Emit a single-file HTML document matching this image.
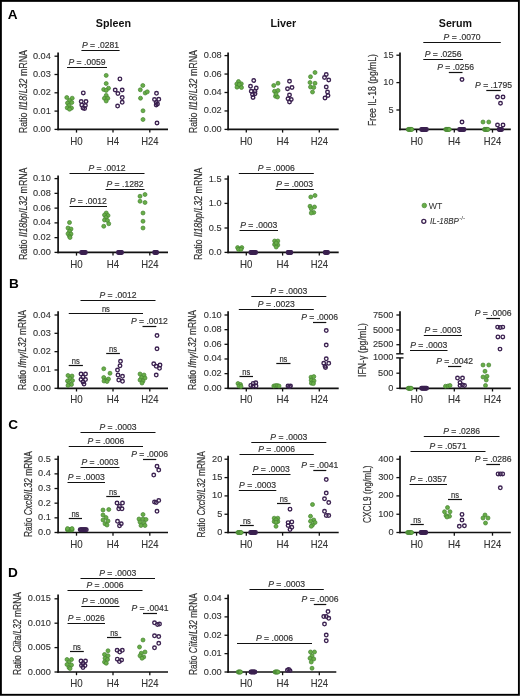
<!DOCTYPE html>
<html><head><meta charset="utf-8"><title>Figure</title>
<style>
html,body{margin:0;padding:0;background:#fff;}
body{width:520px;height:696px;overflow:hidden;font-family:"Liberation Sans",sans-serif;}
svg{display:block;will-change:transform;}
</style></head><body>
<svg width="520" height="696" viewBox="0 0 520 696" font-family="'Liberation Sans', sans-serif">
<rect x="0" y="0" width="520" height="696" fill="#fff"/>
<text x="7.7" y="18.8" font-size="13.6" text-anchor="start" font-weight="bold" fill="#000">A</text>
<text x="8.9" y="288.4" font-size="13.6" text-anchor="start" font-weight="bold" fill="#000">B</text>
<text x="8.2" y="429.2" font-size="13.6" text-anchor="start" font-weight="bold" fill="#000">C</text>
<text x="8" y="577.2" font-size="13.6" text-anchor="start" font-weight="bold" fill="#000">D</text>
<text x="113.4" y="26.6" font-size="10.5" text-anchor="middle" font-weight="bold" textLength="35.2" lengthAdjust="spacingAndGlyphs" fill="#111">Spleen</text>
<text x="283.4" y="26.8" font-size="10.5" text-anchor="middle" font-weight="bold" textLength="25.8" lengthAdjust="spacingAndGlyphs" fill="#111">Liver</text>
<text x="455.4" y="26.8" font-size="10.5" text-anchor="middle" font-weight="bold" textLength="33.2" lengthAdjust="spacingAndGlyphs" fill="#111">Serum</text>
<line x1="58.1" y1="52.4" x2="58.1" y2="130.2" stroke="#111" stroke-width="1.7"/>
<line x1="57.3" y1="129.4" x2="168" y2="129.4" stroke="#111" stroke-width="1.7"/>
<line x1="54.5" y1="129.4" x2="58.1" y2="129.4" stroke="#111" stroke-width="1.3"/>
<text x="50.8" y="131.9" font-size="9.2" text-anchor="end" fill="#333" stroke="#333" stroke-width="0.12">0.00</text>
<line x1="54.5" y1="111.1" x2="58.1" y2="111.1" stroke="#111" stroke-width="1.3"/>
<text x="50.8" y="113.6" font-size="9.2" text-anchor="end" fill="#333" stroke="#333" stroke-width="0.12">0.01</text>
<line x1="54.5" y1="92.8" x2="58.1" y2="92.8" stroke="#111" stroke-width="1.3"/>
<text x="50.8" y="95.3" font-size="9.2" text-anchor="end" fill="#333" stroke="#333" stroke-width="0.12">0.02</text>
<line x1="54.5" y1="74.5" x2="58.1" y2="74.5" stroke="#111" stroke-width="1.3"/>
<text x="50.8" y="77" font-size="9.2" text-anchor="end" fill="#333" stroke="#333" stroke-width="0.12">0.03</text>
<line x1="54.5" y1="56.2" x2="58.1" y2="56.2" stroke="#111" stroke-width="1.3"/>
<text x="50.8" y="58.7" font-size="9.2" text-anchor="end" fill="#333" stroke="#333" stroke-width="0.12">0.04</text>
<line x1="76.5" y1="129.4" x2="76.5" y2="132.6" stroke="#111" stroke-width="1.3"/>
<text x="76.5" y="144.5" font-size="10.8" text-anchor="middle" textLength="12.4" lengthAdjust="spacingAndGlyphs" fill="#333" stroke="#333" stroke-width="0.12">H0</text>
<line x1="113" y1="129.4" x2="113" y2="132.6" stroke="#111" stroke-width="1.3"/>
<text x="113" y="144.5" font-size="10.8" text-anchor="middle" textLength="12.4" lengthAdjust="spacingAndGlyphs" fill="#333" stroke="#333" stroke-width="0.12">H4</text>
<line x1="149.8" y1="129.4" x2="149.8" y2="132.6" stroke="#111" stroke-width="1.3"/>
<text x="149.8" y="144.5" font-size="10.8" text-anchor="middle" textLength="17.3" lengthAdjust="spacingAndGlyphs" fill="#333" stroke="#333" stroke-width="0.12">H24</text>
<text transform="translate(26.9,91.6) rotate(-90)" x="0" y="0" font-size="10.4" text-anchor="middle" textLength="83.2" lengthAdjust="spacingAndGlyphs" fill="#333" stroke="#333" stroke-width="0.2">Ratio <tspan font-style="italic">Il18</tspan>/<tspan font-style="italic">L32</tspan> mRNA</text>
<line x1="81.4" y1="50.5" x2="119.6" y2="50.5" stroke="#111" stroke-width="1.2"/>
<text x="100.5" y="47.9" font-size="8.6" text-anchor="middle" textLength="37" lengthAdjust="spacingAndGlyphs" fill="#333" stroke="#333" stroke-width="0.18"><tspan font-style="italic">P</tspan> = .0281</text>
<line x1="67" y1="67.5" x2="107" y2="67.5" stroke="#111" stroke-width="1.2"/>
<text x="87" y="64.9" font-size="8.6" text-anchor="middle" textLength="37" lengthAdjust="spacingAndGlyphs" fill="#333" stroke="#333" stroke-width="0.18"><tspan font-style="italic">P</tspan> = .0059</text>
<circle cx="66.8" cy="97.5" r="2.0" fill="#68ae48" stroke="#468432" stroke-width="0.7"/>
<circle cx="72.2" cy="98.2" r="2.0" fill="#68ae48" stroke="#468432" stroke-width="0.7"/>
<circle cx="69.5" cy="100.5" r="2.0" fill="#68ae48" stroke="#468432" stroke-width="0.7"/>
<circle cx="67.5" cy="103" r="2.0" fill="#68ae48" stroke="#468432" stroke-width="0.7"/>
<circle cx="71.8" cy="102.5" r="2.0" fill="#68ae48" stroke="#468432" stroke-width="0.7"/>
<circle cx="69" cy="105.5" r="2.0" fill="#68ae48" stroke="#468432" stroke-width="0.7"/>
<circle cx="67.2" cy="107.8" r="2.0" fill="#68ae48" stroke="#468432" stroke-width="0.7"/>
<circle cx="71.5" cy="108" r="2.0" fill="#68ae48" stroke="#468432" stroke-width="0.7"/>
<circle cx="69.5" cy="109.2" r="2.0" fill="#68ae48" stroke="#468432" stroke-width="0.7"/>
<circle cx="83.3" cy="92.9" r="1.8" fill="none" stroke="#3b2150" stroke-width="1.35"/>
<circle cx="81.2" cy="101.6" r="1.8" fill="none" stroke="#3b2150" stroke-width="1.35"/>
<circle cx="86" cy="101.6" r="1.8" fill="none" stroke="#3b2150" stroke-width="1.35"/>
<circle cx="81.8" cy="105" r="1.8" fill="none" stroke="#3b2150" stroke-width="1.35"/>
<circle cx="85.4" cy="105.5" r="1.8" fill="none" stroke="#3b2150" stroke-width="1.35"/>
<circle cx="83" cy="108" r="1.8" fill="none" stroke="#3b2150" stroke-width="1.35"/>
<circle cx="84.6" cy="108.6" r="1.8" fill="none" stroke="#3b2150" stroke-width="1.35"/>
<circle cx="106.2" cy="75.4" r="2.0" fill="#68ae48" stroke="#468432" stroke-width="0.7"/>
<circle cx="106.2" cy="83.5" r="2.0" fill="#68ae48" stroke="#468432" stroke-width="0.7"/>
<circle cx="103.7" cy="89.5" r="2.0" fill="#68ae48" stroke="#468432" stroke-width="0.7"/>
<circle cx="108.5" cy="88.2" r="2.0" fill="#68ae48" stroke="#468432" stroke-width="0.7"/>
<circle cx="106.2" cy="90.4" r="2.0" fill="#68ae48" stroke="#468432" stroke-width="0.7"/>
<circle cx="106.2" cy="95.4" r="2.0" fill="#68ae48" stroke="#468432" stroke-width="0.7"/>
<circle cx="104.4" cy="98.3" r="2.0" fill="#68ae48" stroke="#468432" stroke-width="0.7"/>
<circle cx="107.8" cy="98.3" r="2.0" fill="#68ae48" stroke="#468432" stroke-width="0.7"/>
<circle cx="106.2" cy="101" r="2.0" fill="#68ae48" stroke="#468432" stroke-width="0.7"/>
<circle cx="119.9" cy="78.9" r="1.8" fill="none" stroke="#3b2150" stroke-width="1.35"/>
<circle cx="115.2" cy="90" r="1.8" fill="none" stroke="#3b2150" stroke-width="1.35"/>
<circle cx="122.2" cy="90" r="1.8" fill="none" stroke="#3b2150" stroke-width="1.35"/>
<circle cx="117.9" cy="93.6" r="1.8" fill="none" stroke="#3b2150" stroke-width="1.35"/>
<circle cx="122.2" cy="97.6" r="1.8" fill="none" stroke="#3b2150" stroke-width="1.35"/>
<circle cx="122.2" cy="102.3" r="1.8" fill="none" stroke="#3b2150" stroke-width="1.35"/>
<circle cx="117.6" cy="106.1" r="1.8" fill="none" stroke="#3b2150" stroke-width="1.35"/>
<circle cx="142.8" cy="85.5" r="2.0" fill="#68ae48" stroke="#468432" stroke-width="0.7"/>
<circle cx="140.3" cy="89.8" r="2.0" fill="#68ae48" stroke="#468432" stroke-width="0.7"/>
<circle cx="145.2" cy="93" r="2.0" fill="#68ae48" stroke="#468432" stroke-width="0.7"/>
<circle cx="147.3" cy="91.8" r="2.0" fill="#68ae48" stroke="#468432" stroke-width="0.7"/>
<circle cx="140.5" cy="98.2" r="2.0" fill="#68ae48" stroke="#468432" stroke-width="0.7"/>
<circle cx="143" cy="110.75" r="2.0" fill="#68ae48" stroke="#468432" stroke-width="0.7"/>
<circle cx="143" cy="119.5" r="2.0" fill="#68ae48" stroke="#468432" stroke-width="0.7"/>
<circle cx="156.5" cy="93.3" r="1.8" fill="none" stroke="#3b2150" stroke-width="1.35"/>
<circle cx="154.5" cy="99.6" r="1.8" fill="none" stroke="#3b2150" stroke-width="1.35"/>
<circle cx="158.8" cy="99.3" r="1.8" fill="none" stroke="#3b2150" stroke-width="1.35"/>
<circle cx="156.2" cy="102.5" r="1.8" fill="none" stroke="#3b2150" stroke-width="1.35"/>
<circle cx="157.5" cy="104" r="1.8" fill="none" stroke="#3b2150" stroke-width="1.35"/>
<circle cx="156.2" cy="105" r="1.8" fill="none" stroke="#3b2150" stroke-width="1.35"/>
<circle cx="157" cy="123" r="1.8" fill="none" stroke="#3b2150" stroke-width="1.35"/>
<line x1="228.1" y1="52.4" x2="228.1" y2="130.2" stroke="#111" stroke-width="1.7"/>
<line x1="227.3" y1="129.4" x2="338.7" y2="129.4" stroke="#111" stroke-width="1.7"/>
<line x1="224.5" y1="129.4" x2="228.1" y2="129.4" stroke="#111" stroke-width="1.3"/>
<text x="221.7" y="131.9" font-size="9.2" text-anchor="end" fill="#333" stroke="#333" stroke-width="0.12">0.00</text>
<line x1="224.5" y1="110.95" x2="228.1" y2="110.95" stroke="#111" stroke-width="1.3"/>
<text x="221.7" y="113.45" font-size="9.2" text-anchor="end" fill="#333" stroke="#333" stroke-width="0.12">0.02</text>
<line x1="224.5" y1="92.5" x2="228.1" y2="92.5" stroke="#111" stroke-width="1.3"/>
<text x="221.7" y="95" font-size="9.2" text-anchor="end" fill="#333" stroke="#333" stroke-width="0.12">0.04</text>
<line x1="224.5" y1="74.05" x2="228.1" y2="74.05" stroke="#111" stroke-width="1.3"/>
<text x="221.7" y="76.55" font-size="9.2" text-anchor="end" fill="#333" stroke="#333" stroke-width="0.12">0.06</text>
<line x1="224.5" y1="55.6" x2="228.1" y2="55.6" stroke="#111" stroke-width="1.3"/>
<text x="221.7" y="58.1" font-size="9.2" text-anchor="end" fill="#333" stroke="#333" stroke-width="0.12">0.08</text>
<line x1="246.3" y1="129.4" x2="246.3" y2="132.6" stroke="#111" stroke-width="1.3"/>
<text x="246.3" y="144.5" font-size="10.8" text-anchor="middle" textLength="12.4" lengthAdjust="spacingAndGlyphs" fill="#333" stroke="#333" stroke-width="0.12">H0</text>
<line x1="282.6" y1="129.4" x2="282.6" y2="132.6" stroke="#111" stroke-width="1.3"/>
<text x="282.6" y="144.5" font-size="10.8" text-anchor="middle" textLength="12.4" lengthAdjust="spacingAndGlyphs" fill="#333" stroke="#333" stroke-width="0.12">H4</text>
<line x1="319.3" y1="129.4" x2="319.3" y2="132.6" stroke="#111" stroke-width="1.3"/>
<text x="319.3" y="144.5" font-size="10.8" text-anchor="middle" textLength="17.3" lengthAdjust="spacingAndGlyphs" fill="#333" stroke="#333" stroke-width="0.12">H24</text>
<text transform="translate(197.2,91.6) rotate(-90)" x="0" y="0" font-size="10.4" text-anchor="middle" textLength="83.2" lengthAdjust="spacingAndGlyphs" fill="#333" stroke="#333" stroke-width="0.2">Ratio <tspan font-style="italic">Il18</tspan>/<tspan font-style="italic">L32</tspan> mRNA</text>
<circle cx="238.5" cy="81.5" r="2.0" fill="#68ae48" stroke="#468432" stroke-width="0.7"/>
<circle cx="236.8" cy="84" r="2.0" fill="#68ae48" stroke="#468432" stroke-width="0.7"/>
<circle cx="241.3" cy="83.8" r="2.0" fill="#68ae48" stroke="#468432" stroke-width="0.7"/>
<circle cx="239" cy="86" r="2.0" fill="#68ae48" stroke="#468432" stroke-width="0.7"/>
<circle cx="237" cy="87.2" r="2.0" fill="#68ae48" stroke="#468432" stroke-width="0.7"/>
<circle cx="241.5" cy="87.5" r="2.0" fill="#68ae48" stroke="#468432" stroke-width="0.7"/>
<circle cx="239.2" cy="84.5" r="2.0" fill="#68ae48" stroke="#468432" stroke-width="0.7"/>
<circle cx="253.75" cy="80.5" r="1.8" fill="none" stroke="#3b2150" stroke-width="1.35"/>
<circle cx="250.5" cy="86.25" r="1.8" fill="none" stroke="#3b2150" stroke-width="1.35"/>
<circle cx="256.25" cy="88" r="1.8" fill="none" stroke="#3b2150" stroke-width="1.35"/>
<circle cx="251.25" cy="91.25" r="1.8" fill="none" stroke="#3b2150" stroke-width="1.35"/>
<circle cx="255" cy="91.25" r="1.8" fill="none" stroke="#3b2150" stroke-width="1.35"/>
<circle cx="252.5" cy="94.5" r="1.8" fill="none" stroke="#3b2150" stroke-width="1.35"/>
<circle cx="255" cy="93.75" r="1.8" fill="none" stroke="#3b2150" stroke-width="1.35"/>
<circle cx="253" cy="97.5" r="1.8" fill="none" stroke="#3b2150" stroke-width="1.35"/>
<circle cx="273.75" cy="85.5" r="2.0" fill="#68ae48" stroke="#468432" stroke-width="0.7"/>
<circle cx="278" cy="83.25" r="2.0" fill="#68ae48" stroke="#468432" stroke-width="0.7"/>
<circle cx="274.5" cy="91.25" r="2.0" fill="#68ae48" stroke="#468432" stroke-width="0.7"/>
<circle cx="278" cy="90.5" r="2.0" fill="#68ae48" stroke="#468432" stroke-width="0.7"/>
<circle cx="275.5" cy="96.25" r="2.0" fill="#68ae48" stroke="#468432" stroke-width="0.7"/>
<circle cx="277.5" cy="97" r="2.0" fill="#68ae48" stroke="#468432" stroke-width="0.7"/>
<circle cx="276" cy="94" r="2.0" fill="#68ae48" stroke="#468432" stroke-width="0.7"/>
<circle cx="289.5" cy="81.25" r="1.8" fill="none" stroke="#3b2150" stroke-width="1.35"/>
<circle cx="287.5" cy="88.75" r="1.8" fill="none" stroke="#3b2150" stroke-width="1.35"/>
<circle cx="292" cy="87.5" r="1.8" fill="none" stroke="#3b2150" stroke-width="1.35"/>
<circle cx="289.5" cy="95" r="1.8" fill="none" stroke="#3b2150" stroke-width="1.35"/>
<circle cx="288" cy="98.75" r="1.8" fill="none" stroke="#3b2150" stroke-width="1.35"/>
<circle cx="291.25" cy="99.5" r="1.8" fill="none" stroke="#3b2150" stroke-width="1.35"/>
<circle cx="289.5" cy="102" r="1.8" fill="none" stroke="#3b2150" stroke-width="1.35"/>
<circle cx="315" cy="72.5" r="2.0" fill="#68ae48" stroke="#468432" stroke-width="0.7"/>
<circle cx="310.5" cy="76.75" r="2.0" fill="#68ae48" stroke="#468432" stroke-width="0.7"/>
<circle cx="310" cy="82.5" r="2.0" fill="#68ae48" stroke="#468432" stroke-width="0.7"/>
<circle cx="315" cy="83.25" r="2.0" fill="#68ae48" stroke="#468432" stroke-width="0.7"/>
<circle cx="310.5" cy="87" r="2.0" fill="#68ae48" stroke="#468432" stroke-width="0.7"/>
<circle cx="313.75" cy="87.5" r="2.0" fill="#68ae48" stroke="#468432" stroke-width="0.7"/>
<circle cx="312.5" cy="92" r="2.0" fill="#68ae48" stroke="#468432" stroke-width="0.7"/>
<circle cx="326.25" cy="74.5" r="1.8" fill="none" stroke="#3b2150" stroke-width="1.35"/>
<circle cx="324.5" cy="77.5" r="1.8" fill="none" stroke="#3b2150" stroke-width="1.35"/>
<circle cx="328.75" cy="80" r="1.8" fill="none" stroke="#3b2150" stroke-width="1.35"/>
<circle cx="326.25" cy="87" r="1.8" fill="none" stroke="#3b2150" stroke-width="1.35"/>
<circle cx="327.5" cy="92" r="1.8" fill="none" stroke="#3b2150" stroke-width="1.35"/>
<circle cx="325" cy="98" r="1.8" fill="none" stroke="#3b2150" stroke-width="1.35"/>
<circle cx="328" cy="95.5" r="1.8" fill="none" stroke="#3b2150" stroke-width="1.35"/>
<line x1="400" y1="52.4" x2="400" y2="130.2" stroke="#111" stroke-width="1.7"/>
<line x1="399.2" y1="129.4" x2="510.8" y2="129.4" stroke="#111" stroke-width="1.7"/>
<line x1="396.4" y1="110" x2="400" y2="110" stroke="#111" stroke-width="1.3"/>
<text x="393.6" y="112.5" font-size="9.2" text-anchor="end" fill="#333" stroke="#333" stroke-width="0.12">5</text>
<line x1="396.4" y1="82.6" x2="400" y2="82.6" stroke="#111" stroke-width="1.3"/>
<text x="393.6" y="85.1" font-size="9.2" text-anchor="end" fill="#333" stroke="#333" stroke-width="0.12">10</text>
<line x1="396.4" y1="55.2" x2="400" y2="55.2" stroke="#111" stroke-width="1.3"/>
<text x="393.6" y="57.7" font-size="9.2" text-anchor="end" fill="#333" stroke="#333" stroke-width="0.12">15</text>
<line x1="416.6" y1="129.4" x2="416.6" y2="132.6" stroke="#111" stroke-width="1.3"/>
<text x="416.6" y="144.5" font-size="10.8" text-anchor="middle" textLength="12.4" lengthAdjust="spacingAndGlyphs" fill="#333" stroke="#333" stroke-width="0.12">H0</text>
<line x1="454.3" y1="129.4" x2="454.3" y2="132.6" stroke="#111" stroke-width="1.3"/>
<text x="454.3" y="144.5" font-size="10.8" text-anchor="middle" textLength="12.4" lengthAdjust="spacingAndGlyphs" fill="#333" stroke="#333" stroke-width="0.12">H4</text>
<line x1="492.5" y1="129.4" x2="492.5" y2="132.6" stroke="#111" stroke-width="1.3"/>
<text x="492.5" y="144.5" font-size="10.8" text-anchor="middle" textLength="17.3" lengthAdjust="spacingAndGlyphs" fill="#333" stroke="#333" stroke-width="0.12">H24</text>
<text transform="translate(375.9,90) rotate(-90)" x="0" y="0" font-size="10.4" text-anchor="middle" textLength="72" lengthAdjust="spacingAndGlyphs" fill="#333" stroke="#333" stroke-width="0.2">Free IL-18 (pg/mL)</text>
<line x1="423.3" y1="42.5" x2="500.8" y2="42.5" stroke="#111" stroke-width="1.2"/>
<text x="462.05" y="39.9" font-size="8.6" text-anchor="middle" textLength="37" lengthAdjust="spacingAndGlyphs" fill="#333" stroke="#333" stroke-width="0.18"><tspan font-style="italic">P</tspan> = .0070</text>
<line x1="423.3" y1="59.5" x2="463" y2="59.5" stroke="#111" stroke-width="1.2"/>
<text x="443.15" y="56.9" font-size="8.6" text-anchor="middle" textLength="37" lengthAdjust="spacingAndGlyphs" fill="#333" stroke="#333" stroke-width="0.18"><tspan font-style="italic">P</tspan> = .0256</text>
<line x1="448.8" y1="72.5" x2="462.5" y2="72.5" stroke="#111" stroke-width="1.2"/>
<text x="455.65" y="69.9" font-size="8.6" text-anchor="middle" textLength="37" lengthAdjust="spacingAndGlyphs" fill="#333" stroke="#333" stroke-width="0.18"><tspan font-style="italic">P</tspan> = .0256</text>
<line x1="486.3" y1="90.5" x2="500.8" y2="90.5" stroke="#111" stroke-width="1.2"/>
<text x="493.55" y="87.9" font-size="8.6" text-anchor="middle" textLength="37" lengthAdjust="spacingAndGlyphs" fill="#333" stroke="#333" stroke-width="0.18"><tspan font-style="italic">P</tspan> = .1795</text>
<circle cx="408.2" cy="129.4" r="2.0" fill="#68ae48" stroke="#468432" stroke-width="0.7"/>
<circle cx="408.92" cy="129.4" r="2.0" fill="#68ae48" stroke="#468432" stroke-width="0.7"/>
<circle cx="409.64" cy="129.4" r="2.0" fill="#68ae48" stroke="#468432" stroke-width="0.7"/>
<circle cx="410.36" cy="129.4" r="2.0" fill="#68ae48" stroke="#468432" stroke-width="0.7"/>
<circle cx="411.08" cy="129.4" r="2.0" fill="#68ae48" stroke="#468432" stroke-width="0.7"/>
<circle cx="411.8" cy="129.4" r="2.0" fill="#68ae48" stroke="#468432" stroke-width="0.7"/>
<circle cx="421.6" cy="129.4" r="1.8" fill="none" stroke="#3b2150" stroke-width="1.35"/>
<circle cx="422.4" cy="129.4" r="1.8" fill="none" stroke="#3b2150" stroke-width="1.35"/>
<circle cx="423.2" cy="129.4" r="1.8" fill="none" stroke="#3b2150" stroke-width="1.35"/>
<circle cx="424" cy="129.4" r="1.8" fill="none" stroke="#3b2150" stroke-width="1.35"/>
<circle cx="424.8" cy="129.4" r="1.8" fill="none" stroke="#3b2150" stroke-width="1.35"/>
<circle cx="425.6" cy="129.4" r="1.8" fill="none" stroke="#3b2150" stroke-width="1.35"/>
<circle cx="426.4" cy="129.4" r="1.8" fill="none" stroke="#3b2150" stroke-width="1.35"/>
<circle cx="445.7" cy="129.4" r="2.0" fill="#68ae48" stroke="#468432" stroke-width="0.7"/>
<circle cx="446.42" cy="129.4" r="2.0" fill="#68ae48" stroke="#468432" stroke-width="0.7"/>
<circle cx="447.14" cy="129.4" r="2.0" fill="#68ae48" stroke="#468432" stroke-width="0.7"/>
<circle cx="447.86" cy="129.4" r="2.0" fill="#68ae48" stroke="#468432" stroke-width="0.7"/>
<circle cx="448.58" cy="129.4" r="2.0" fill="#68ae48" stroke="#468432" stroke-width="0.7"/>
<circle cx="449.3" cy="129.4" r="2.0" fill="#68ae48" stroke="#468432" stroke-width="0.7"/>
<circle cx="459.6" cy="129.4" r="1.8" fill="none" stroke="#3b2150" stroke-width="1.35"/>
<circle cx="460.33" cy="129.4" r="1.8" fill="none" stroke="#3b2150" stroke-width="1.35"/>
<circle cx="461.07" cy="129.4" r="1.8" fill="none" stroke="#3b2150" stroke-width="1.35"/>
<circle cx="461.8" cy="129.4" r="1.8" fill="none" stroke="#3b2150" stroke-width="1.35"/>
<circle cx="462.53" cy="129.4" r="1.8" fill="none" stroke="#3b2150" stroke-width="1.35"/>
<circle cx="463.27" cy="129.4" r="1.8" fill="none" stroke="#3b2150" stroke-width="1.35"/>
<circle cx="464" cy="129.4" r="1.8" fill="none" stroke="#3b2150" stroke-width="1.35"/>
<circle cx="462" cy="79.5" r="1.8" fill="none" stroke="#3b2150" stroke-width="1.35"/>
<circle cx="462" cy="122" r="1.8" fill="none" stroke="#3b2150" stroke-width="1.35"/>
<circle cx="484.4" cy="129.4" r="2.0" fill="#68ae48" stroke="#468432" stroke-width="0.7"/>
<circle cx="485.12" cy="129.4" r="2.0" fill="#68ae48" stroke="#468432" stroke-width="0.7"/>
<circle cx="485.84" cy="129.4" r="2.0" fill="#68ae48" stroke="#468432" stroke-width="0.7"/>
<circle cx="486.56" cy="129.4" r="2.0" fill="#68ae48" stroke="#468432" stroke-width="0.7"/>
<circle cx="487.28" cy="129.4" r="2.0" fill="#68ae48" stroke="#468432" stroke-width="0.7"/>
<circle cx="488" cy="129.4" r="2.0" fill="#68ae48" stroke="#468432" stroke-width="0.7"/>
<circle cx="483" cy="122" r="2.0" fill="#68ae48" stroke="#468432" stroke-width="0.7"/>
<circle cx="488.75" cy="122" r="2.0" fill="#68ae48" stroke="#468432" stroke-width="0.7"/>
<circle cx="499.2" cy="129.4" r="1.8" fill="none" stroke="#3b2150" stroke-width="1.35"/>
<circle cx="499.8" cy="129.4" r="1.8" fill="none" stroke="#3b2150" stroke-width="1.35"/>
<circle cx="500.4" cy="129.4" r="1.8" fill="none" stroke="#3b2150" stroke-width="1.35"/>
<circle cx="501" cy="129.4" r="1.8" fill="none" stroke="#3b2150" stroke-width="1.35"/>
<circle cx="501.6" cy="129.4" r="1.8" fill="none" stroke="#3b2150" stroke-width="1.35"/>
<circle cx="497.5" cy="97" r="1.8" fill="none" stroke="#3b2150" stroke-width="1.35"/>
<circle cx="503" cy="97" r="1.8" fill="none" stroke="#3b2150" stroke-width="1.35"/>
<circle cx="500.5" cy="103.25" r="1.8" fill="none" stroke="#3b2150" stroke-width="1.35"/>
<circle cx="497.5" cy="125" r="1.8" fill="none" stroke="#3b2150" stroke-width="1.35"/>
<circle cx="503" cy="125" r="1.8" fill="none" stroke="#3b2150" stroke-width="1.35"/>
<line x1="58.1" y1="175.4" x2="58.1" y2="253.2" stroke="#111" stroke-width="1.7"/>
<line x1="57.3" y1="252.4" x2="168" y2="252.4" stroke="#111" stroke-width="1.7"/>
<line x1="54.5" y1="252.4" x2="58.1" y2="252.4" stroke="#111" stroke-width="1.3"/>
<text x="50.8" y="254.9" font-size="9.2" text-anchor="end" fill="#333" stroke="#333" stroke-width="0.12">0.00</text>
<line x1="54.5" y1="237.64" x2="58.1" y2="237.64" stroke="#111" stroke-width="1.3"/>
<text x="50.8" y="240.14" font-size="9.2" text-anchor="end" fill="#333" stroke="#333" stroke-width="0.12">0.02</text>
<line x1="54.5" y1="222.88" x2="58.1" y2="222.88" stroke="#111" stroke-width="1.3"/>
<text x="50.8" y="225.38" font-size="9.2" text-anchor="end" fill="#333" stroke="#333" stroke-width="0.12">0.04</text>
<line x1="54.5" y1="208.12" x2="58.1" y2="208.12" stroke="#111" stroke-width="1.3"/>
<text x="50.8" y="210.62" font-size="9.2" text-anchor="end" fill="#333" stroke="#333" stroke-width="0.12">0.06</text>
<line x1="54.5" y1="193.36" x2="58.1" y2="193.36" stroke="#111" stroke-width="1.3"/>
<text x="50.8" y="195.86" font-size="9.2" text-anchor="end" fill="#333" stroke="#333" stroke-width="0.12">0.08</text>
<line x1="54.5" y1="178.6" x2="58.1" y2="178.6" stroke="#111" stroke-width="1.3"/>
<text x="50.8" y="181.1" font-size="9.2" text-anchor="end" fill="#333" stroke="#333" stroke-width="0.12">0.10</text>
<line x1="76.5" y1="252.4" x2="76.5" y2="255.6" stroke="#111" stroke-width="1.3"/>
<text x="76.5" y="267.5" font-size="10.8" text-anchor="middle" textLength="12.4" lengthAdjust="spacingAndGlyphs" fill="#333" stroke="#333" stroke-width="0.12">H0</text>
<line x1="113" y1="252.4" x2="113" y2="255.6" stroke="#111" stroke-width="1.3"/>
<text x="113" y="267.5" font-size="10.8" text-anchor="middle" textLength="12.4" lengthAdjust="spacingAndGlyphs" fill="#333" stroke="#333" stroke-width="0.12">H4</text>
<line x1="149.8" y1="252.4" x2="149.8" y2="255.6" stroke="#111" stroke-width="1.3"/>
<text x="149.8" y="267.5" font-size="10.8" text-anchor="middle" textLength="17.3" lengthAdjust="spacingAndGlyphs" fill="#333" stroke="#333" stroke-width="0.12">H24</text>
<text transform="translate(27.15,213.75) rotate(-90)" x="0" y="0" font-size="10.4" text-anchor="middle" textLength="92.5" lengthAdjust="spacingAndGlyphs" fill="#333" stroke="#333" stroke-width="0.2">Ratio <tspan font-style="italic">Il18bp</tspan>/<tspan font-style="italic">L32</tspan> mRNA</text>
<line x1="69.5" y1="173.5" x2="144.5" y2="173.5" stroke="#111" stroke-width="1.2"/>
<text x="107" y="170.9" font-size="8.6" text-anchor="middle" textLength="37" lengthAdjust="spacingAndGlyphs" fill="#333" stroke="#333" stroke-width="0.18"><tspan font-style="italic">P</tspan> = .0012</text>
<line x1="105.5" y1="189.5" x2="144.5" y2="189.5" stroke="#111" stroke-width="1.2"/>
<text x="125" y="186.9" font-size="8.6" text-anchor="middle" textLength="37" lengthAdjust="spacingAndGlyphs" fill="#333" stroke="#333" stroke-width="0.18"><tspan font-style="italic">P</tspan> = .1282</text>
<line x1="69.5" y1="206.5" x2="107" y2="206.5" stroke="#111" stroke-width="1.2"/>
<text x="88.25" y="203.9" font-size="8.6" text-anchor="middle" textLength="37" lengthAdjust="spacingAndGlyphs" fill="#333" stroke="#333" stroke-width="0.18"><tspan font-style="italic">P</tspan> = .0012</text>
<circle cx="69.5" cy="222.5" r="2.0" fill="#68ae48" stroke="#468432" stroke-width="0.7"/>
<circle cx="68" cy="228" r="2.0" fill="#68ae48" stroke="#468432" stroke-width="0.7"/>
<circle cx="71" cy="229" r="2.0" fill="#68ae48" stroke="#468432" stroke-width="0.7"/>
<circle cx="69.5" cy="231.25" r="2.0" fill="#68ae48" stroke="#468432" stroke-width="0.7"/>
<circle cx="68" cy="233.75" r="2.0" fill="#68ae48" stroke="#468432" stroke-width="0.7"/>
<circle cx="71" cy="234" r="2.0" fill="#68ae48" stroke="#468432" stroke-width="0.7"/>
<circle cx="69.5" cy="236.25" r="2.0" fill="#68ae48" stroke="#468432" stroke-width="0.7"/>
<circle cx="70" cy="237.5" r="2.0" fill="#68ae48" stroke="#468432" stroke-width="0.7"/>
<circle cx="81.6" cy="252.4" r="1.8" fill="none" stroke="#3b2150" stroke-width="1.35"/>
<circle cx="82.36" cy="252.4" r="1.8" fill="none" stroke="#3b2150" stroke-width="1.35"/>
<circle cx="83.12" cy="252.4" r="1.8" fill="none" stroke="#3b2150" stroke-width="1.35"/>
<circle cx="83.88" cy="252.4" r="1.8" fill="none" stroke="#3b2150" stroke-width="1.35"/>
<circle cx="84.64" cy="252.4" r="1.8" fill="none" stroke="#3b2150" stroke-width="1.35"/>
<circle cx="85.4" cy="252.4" r="1.8" fill="none" stroke="#3b2150" stroke-width="1.35"/>
<circle cx="106.25" cy="213" r="2.0" fill="#68ae48" stroke="#468432" stroke-width="0.7"/>
<circle cx="104.5" cy="215" r="2.0" fill="#68ae48" stroke="#468432" stroke-width="0.7"/>
<circle cx="108" cy="215.5" r="2.0" fill="#68ae48" stroke="#468432" stroke-width="0.7"/>
<circle cx="106" cy="217.5" r="2.0" fill="#68ae48" stroke="#468432" stroke-width="0.7"/>
<circle cx="104.5" cy="220" r="2.0" fill="#68ae48" stroke="#468432" stroke-width="0.7"/>
<circle cx="107.5" cy="220.5" r="2.0" fill="#68ae48" stroke="#468432" stroke-width="0.7"/>
<circle cx="108.75" cy="223.75" r="2.0" fill="#68ae48" stroke="#468432" stroke-width="0.7"/>
<circle cx="103.75" cy="226.25" r="2.0" fill="#68ae48" stroke="#468432" stroke-width="0.7"/>
<circle cx="118.4" cy="252.4" r="1.8" fill="none" stroke="#3b2150" stroke-width="1.35"/>
<circle cx="119.04" cy="252.4" r="1.8" fill="none" stroke="#3b2150" stroke-width="1.35"/>
<circle cx="119.68" cy="252.4" r="1.8" fill="none" stroke="#3b2150" stroke-width="1.35"/>
<circle cx="120.32" cy="252.4" r="1.8" fill="none" stroke="#3b2150" stroke-width="1.35"/>
<circle cx="120.96" cy="252.4" r="1.8" fill="none" stroke="#3b2150" stroke-width="1.35"/>
<circle cx="121.6" cy="252.4" r="1.8" fill="none" stroke="#3b2150" stroke-width="1.35"/>
<circle cx="140" cy="196.25" r="2.0" fill="#68ae48" stroke="#468432" stroke-width="0.7"/>
<circle cx="145" cy="194.5" r="2.0" fill="#68ae48" stroke="#468432" stroke-width="0.7"/>
<circle cx="140" cy="201.25" r="2.0" fill="#68ae48" stroke="#468432" stroke-width="0.7"/>
<circle cx="145" cy="202.5" r="2.0" fill="#68ae48" stroke="#468432" stroke-width="0.7"/>
<circle cx="143" cy="213" r="2.0" fill="#68ae48" stroke="#468432" stroke-width="0.7"/>
<circle cx="143" cy="221.25" r="2.0" fill="#68ae48" stroke="#468432" stroke-width="0.7"/>
<circle cx="143" cy="228" r="2.0" fill="#68ae48" stroke="#468432" stroke-width="0.7"/>
<circle cx="154.6" cy="252.4" r="1.8" fill="none" stroke="#3b2150" stroke-width="1.35"/>
<circle cx="155.12" cy="252.4" r="1.8" fill="none" stroke="#3b2150" stroke-width="1.35"/>
<circle cx="155.65" cy="252.4" r="1.8" fill="none" stroke="#3b2150" stroke-width="1.35"/>
<circle cx="156.18" cy="252.4" r="1.8" fill="none" stroke="#3b2150" stroke-width="1.35"/>
<circle cx="156.7" cy="252.4" r="1.8" fill="none" stroke="#3b2150" stroke-width="1.35"/>
<line x1="228.1" y1="175.4" x2="228.1" y2="253.2" stroke="#111" stroke-width="1.7"/>
<line x1="227.3" y1="252.4" x2="338.7" y2="252.4" stroke="#111" stroke-width="1.7"/>
<line x1="224.5" y1="252.4" x2="228.1" y2="252.4" stroke="#111" stroke-width="1.3"/>
<text x="221.5" y="254.9" font-size="9.2" text-anchor="end" fill="#333" stroke="#333" stroke-width="0.12">0.0</text>
<line x1="224.5" y1="228" x2="228.1" y2="228" stroke="#111" stroke-width="1.3"/>
<text x="221.5" y="230.5" font-size="9.2" text-anchor="end" fill="#333" stroke="#333" stroke-width="0.12">0.5</text>
<line x1="224.5" y1="203.4" x2="228.1" y2="203.4" stroke="#111" stroke-width="1.3"/>
<text x="221.5" y="205.9" font-size="9.2" text-anchor="end" fill="#333" stroke="#333" stroke-width="0.12">1.0</text>
<line x1="224.5" y1="179" x2="228.1" y2="179" stroke="#111" stroke-width="1.3"/>
<text x="221.5" y="181.5" font-size="9.2" text-anchor="end" fill="#333" stroke="#333" stroke-width="0.12">1.5</text>
<line x1="246.3" y1="252.4" x2="246.3" y2="255.6" stroke="#111" stroke-width="1.3"/>
<text x="246.3" y="267.5" font-size="10.8" text-anchor="middle" textLength="12.4" lengthAdjust="spacingAndGlyphs" fill="#333" stroke="#333" stroke-width="0.12">H0</text>
<line x1="282.6" y1="252.4" x2="282.6" y2="255.6" stroke="#111" stroke-width="1.3"/>
<text x="282.6" y="267.5" font-size="10.8" text-anchor="middle" textLength="12.4" lengthAdjust="spacingAndGlyphs" fill="#333" stroke="#333" stroke-width="0.12">H4</text>
<line x1="319.3" y1="252.4" x2="319.3" y2="255.6" stroke="#111" stroke-width="1.3"/>
<text x="319.3" y="267.5" font-size="10.8" text-anchor="middle" textLength="17.3" lengthAdjust="spacingAndGlyphs" fill="#333" stroke="#333" stroke-width="0.12">H24</text>
<text transform="translate(202.2,213.75) rotate(-90)" x="0" y="0" font-size="10.4" text-anchor="middle" textLength="92.5" lengthAdjust="spacingAndGlyphs" fill="#333" stroke="#333" stroke-width="0.2">Ratio <tspan font-style="italic">Il18bp</tspan>/<tspan font-style="italic">L32</tspan> mRNA</text>
<line x1="238.8" y1="173.5" x2="313.8" y2="173.5" stroke="#111" stroke-width="1.2"/>
<text x="276.3" y="170.9" font-size="8.6" text-anchor="middle" textLength="37" lengthAdjust="spacingAndGlyphs" fill="#333" stroke="#333" stroke-width="0.18"><tspan font-style="italic">P</tspan> = .0006</text>
<line x1="275.5" y1="189.5" x2="313.8" y2="189.5" stroke="#111" stroke-width="1.2"/>
<text x="294.65" y="186.9" font-size="8.6" text-anchor="middle" textLength="37" lengthAdjust="spacingAndGlyphs" fill="#333" stroke="#333" stroke-width="0.18"><tspan font-style="italic">P</tspan> = .0003</text>
<line x1="239.5" y1="230.5" x2="278" y2="230.5" stroke="#111" stroke-width="1.2"/>
<text x="258.75" y="227.9" font-size="8.6" text-anchor="middle" textLength="37" lengthAdjust="spacingAndGlyphs" fill="#333" stroke="#333" stroke-width="0.18"><tspan font-style="italic">P</tspan> = .0003</text>
<circle cx="237.6" cy="247.6" r="2.0" fill="#68ae48" stroke="#468432" stroke-width="0.7"/>
<circle cx="241.8" cy="247.6" r="2.0" fill="#68ae48" stroke="#468432" stroke-width="0.7"/>
<circle cx="239.7" cy="249.2" r="2.0" fill="#68ae48" stroke="#468432" stroke-width="0.7"/>
<circle cx="238.5" cy="249.4" r="2.0" fill="#68ae48" stroke="#468432" stroke-width="0.7"/>
<circle cx="241" cy="249.4" r="2.0" fill="#68ae48" stroke="#468432" stroke-width="0.7"/>
<circle cx="250.8" cy="252.4" r="1.8" fill="none" stroke="#3b2150" stroke-width="1.35"/>
<circle cx="251.62" cy="252.4" r="1.8" fill="none" stroke="#3b2150" stroke-width="1.35"/>
<circle cx="252.43" cy="252.4" r="1.8" fill="none" stroke="#3b2150" stroke-width="1.35"/>
<circle cx="253.25" cy="252.4" r="1.8" fill="none" stroke="#3b2150" stroke-width="1.35"/>
<circle cx="254.07" cy="252.4" r="1.8" fill="none" stroke="#3b2150" stroke-width="1.35"/>
<circle cx="254.88" cy="252.4" r="1.8" fill="none" stroke="#3b2150" stroke-width="1.35"/>
<circle cx="255.7" cy="252.4" r="1.8" fill="none" stroke="#3b2150" stroke-width="1.35"/>
<circle cx="274.6" cy="241" r="2.0" fill="#68ae48" stroke="#468432" stroke-width="0.7"/>
<circle cx="277.8" cy="241" r="2.0" fill="#68ae48" stroke="#468432" stroke-width="0.7"/>
<circle cx="274.6" cy="244.5" r="2.0" fill="#68ae48" stroke="#468432" stroke-width="0.7"/>
<circle cx="277.8" cy="245" r="2.0" fill="#68ae48" stroke="#468432" stroke-width="0.7"/>
<circle cx="276.2" cy="247" r="2.0" fill="#68ae48" stroke="#468432" stroke-width="0.7"/>
<circle cx="276.2" cy="243" r="2.0" fill="#68ae48" stroke="#468432" stroke-width="0.7"/>
<circle cx="288.1" cy="252.4" r="1.8" fill="none" stroke="#3b2150" stroke-width="1.35"/>
<circle cx="288.66" cy="252.4" r="1.8" fill="none" stroke="#3b2150" stroke-width="1.35"/>
<circle cx="289.22" cy="252.4" r="1.8" fill="none" stroke="#3b2150" stroke-width="1.35"/>
<circle cx="289.78" cy="252.4" r="1.8" fill="none" stroke="#3b2150" stroke-width="1.35"/>
<circle cx="290.34" cy="252.4" r="1.8" fill="none" stroke="#3b2150" stroke-width="1.35"/>
<circle cx="290.9" cy="252.4" r="1.8" fill="none" stroke="#3b2150" stroke-width="1.35"/>
<circle cx="310.75" cy="197" r="2.0" fill="#68ae48" stroke="#468432" stroke-width="0.7"/>
<circle cx="315" cy="195.5" r="2.0" fill="#68ae48" stroke="#468432" stroke-width="0.7"/>
<circle cx="310" cy="206.25" r="2.0" fill="#68ae48" stroke="#468432" stroke-width="0.7"/>
<circle cx="314.5" cy="207" r="2.0" fill="#68ae48" stroke="#468432" stroke-width="0.7"/>
<circle cx="311.25" cy="208.75" r="2.0" fill="#68ae48" stroke="#468432" stroke-width="0.7"/>
<circle cx="313.75" cy="212.5" r="2.0" fill="#68ae48" stroke="#468432" stroke-width="0.7"/>
<circle cx="311.25" cy="213" r="2.0" fill="#68ae48" stroke="#468432" stroke-width="0.7"/>
<circle cx="325.2" cy="252.4" r="1.8" fill="none" stroke="#3b2150" stroke-width="1.35"/>
<circle cx="325.8" cy="252.4" r="1.8" fill="none" stroke="#3b2150" stroke-width="1.35"/>
<circle cx="326.4" cy="252.4" r="1.8" fill="none" stroke="#3b2150" stroke-width="1.35"/>
<circle cx="327" cy="252.4" r="1.8" fill="none" stroke="#3b2150" stroke-width="1.35"/>
<circle cx="327.6" cy="252.4" r="1.8" fill="none" stroke="#3b2150" stroke-width="1.35"/>
<circle cx="424.3" cy="205.5" r="2.3" fill="#68ae48" stroke="#468432" stroke-width="0.7"/>
<text x="428.8" y="208.6" font-size="9" text-anchor="start" textLength="13.6" lengthAdjust="spacingAndGlyphs" fill="#333">WT</text>
<circle cx="423.8" cy="221.3" r="2.0" fill="none" stroke="#3b2150" stroke-width="1.35"/>
<text x="430" y="224.1" font-size="9.4" text-anchor="start" font-style="italic" textLength="28.8" lengthAdjust="spacingAndGlyphs" fill="#333" stroke="#333" stroke-width="0.12">IL-18BP</text>
<text x="459.2" y="220.1" font-size="6.2" text-anchor="start" textLength="6" lengthAdjust="spacingAndGlyphs" fill="#333">-/-</text>
<line x1="58.1" y1="311.3" x2="58.1" y2="389.1" stroke="#111" stroke-width="1.7"/>
<line x1="57.3" y1="388.3" x2="168" y2="388.3" stroke="#111" stroke-width="1.7"/>
<line x1="54.5" y1="388.3" x2="58.1" y2="388.3" stroke="#111" stroke-width="1.3"/>
<text x="50.8" y="390.8" font-size="9.2" text-anchor="end" fill="#333" stroke="#333" stroke-width="0.12">0.00</text>
<line x1="54.5" y1="369.98" x2="58.1" y2="369.98" stroke="#111" stroke-width="1.3"/>
<text x="50.8" y="372.48" font-size="9.2" text-anchor="end" fill="#333" stroke="#333" stroke-width="0.12">0.01</text>
<line x1="54.5" y1="351.65" x2="58.1" y2="351.65" stroke="#111" stroke-width="1.3"/>
<text x="50.8" y="354.15" font-size="9.2" text-anchor="end" fill="#333" stroke="#333" stroke-width="0.12">0.02</text>
<line x1="54.5" y1="333.32" x2="58.1" y2="333.32" stroke="#111" stroke-width="1.3"/>
<text x="50.8" y="335.82" font-size="9.2" text-anchor="end" fill="#333" stroke="#333" stroke-width="0.12">0.03</text>
<line x1="54.5" y1="315" x2="58.1" y2="315" stroke="#111" stroke-width="1.3"/>
<text x="50.8" y="317.5" font-size="9.2" text-anchor="end" fill="#333" stroke="#333" stroke-width="0.12">0.04</text>
<line x1="76.5" y1="388.3" x2="76.5" y2="391.5" stroke="#111" stroke-width="1.3"/>
<text x="76.5" y="403.4" font-size="10.8" text-anchor="middle" textLength="12.4" lengthAdjust="spacingAndGlyphs" fill="#333" stroke="#333" stroke-width="0.12">H0</text>
<line x1="113" y1="388.3" x2="113" y2="391.5" stroke="#111" stroke-width="1.3"/>
<text x="113" y="403.4" font-size="10.8" text-anchor="middle" textLength="12.4" lengthAdjust="spacingAndGlyphs" fill="#333" stroke="#333" stroke-width="0.12">H4</text>
<line x1="149.8" y1="388.3" x2="149.8" y2="391.5" stroke="#111" stroke-width="1.3"/>
<text x="149.8" y="403.4" font-size="10.8" text-anchor="middle" textLength="17.3" lengthAdjust="spacingAndGlyphs" fill="#333" stroke="#333" stroke-width="0.12">H24</text>
<text transform="translate(25.9,350) rotate(-90)" x="0" y="0" font-size="10.4" text-anchor="middle" textLength="80" lengthAdjust="spacingAndGlyphs" fill="#333" stroke="#333" stroke-width="0.2">Ratio <tspan font-style="italic">Ifnγ</tspan>/<tspan font-style="italic">L32</tspan> mRNA</text>
<line x1="80.5" y1="300.5" x2="155.5" y2="300.5" stroke="#111" stroke-width="1.2"/>
<text x="118" y="297.9" font-size="8.6" text-anchor="middle" textLength="37" lengthAdjust="spacingAndGlyphs" fill="#333" stroke="#333" stroke-width="0.18"><tspan font-style="italic">P</tspan> = .0012</text>
<line x1="68.75" y1="313.5" x2="143" y2="313.5" stroke="#111" stroke-width="1.2"/>
<text x="105.88" y="311.8" font-size="8.4" text-anchor="middle" textLength="8" lengthAdjust="spacingAndGlyphs" fill="#333" stroke="#333" stroke-width="0.18">ns</text>
<line x1="142.5" y1="326.5" x2="156.3" y2="326.5" stroke="#111" stroke-width="1.2"/>
<text x="149.4" y="323.9" font-size="8.6" text-anchor="middle" textLength="37" lengthAdjust="spacingAndGlyphs" fill="#333" stroke="#333" stroke-width="0.18"><tspan font-style="italic">P</tspan> = .0012</text>
<line x1="68.7" y1="365.5" x2="82.9" y2="365.5" stroke="#111" stroke-width="1.2"/>
<text x="75.8" y="363.8" font-size="8.4" text-anchor="middle" textLength="8" lengthAdjust="spacingAndGlyphs" fill="#333" stroke="#333" stroke-width="0.18">ns</text>
<line x1="106.2" y1="353.5" x2="119.9" y2="353.5" stroke="#111" stroke-width="1.2"/>
<text x="113.05" y="351.8" font-size="8.4" text-anchor="middle" textLength="8" lengthAdjust="spacingAndGlyphs" fill="#333" stroke="#333" stroke-width="0.18">ns</text>
<circle cx="68" cy="375.5" r="2.0" fill="#68ae48" stroke="#468432" stroke-width="0.7"/>
<circle cx="72" cy="376" r="2.0" fill="#68ae48" stroke="#468432" stroke-width="0.7"/>
<circle cx="70" cy="378.5" r="2.0" fill="#68ae48" stroke="#468432" stroke-width="0.7"/>
<circle cx="67.5" cy="381" r="2.0" fill="#68ae48" stroke="#468432" stroke-width="0.7"/>
<circle cx="72.5" cy="380.5" r="2.0" fill="#68ae48" stroke="#468432" stroke-width="0.7"/>
<circle cx="69" cy="383.5" r="2.0" fill="#68ae48" stroke="#468432" stroke-width="0.7"/>
<circle cx="71.5" cy="384.5" r="2.0" fill="#68ae48" stroke="#468432" stroke-width="0.7"/>
<circle cx="68" cy="385.5" r="2.0" fill="#68ae48" stroke="#468432" stroke-width="0.7"/>
<circle cx="81" cy="374" r="1.8" fill="none" stroke="#3b2150" stroke-width="1.35"/>
<circle cx="85.5" cy="374" r="1.8" fill="none" stroke="#3b2150" stroke-width="1.35"/>
<circle cx="83" cy="377" r="1.8" fill="none" stroke="#3b2150" stroke-width="1.35"/>
<circle cx="81" cy="379.5" r="1.8" fill="none" stroke="#3b2150" stroke-width="1.35"/>
<circle cx="85.5" cy="379.5" r="1.8" fill="none" stroke="#3b2150" stroke-width="1.35"/>
<circle cx="83" cy="382" r="1.8" fill="none" stroke="#3b2150" stroke-width="1.35"/>
<circle cx="84" cy="384" r="1.8" fill="none" stroke="#3b2150" stroke-width="1.35"/>
<circle cx="103.75" cy="368.75" r="2.0" fill="#68ae48" stroke="#468432" stroke-width="0.7"/>
<circle cx="110" cy="373.25" r="2.0" fill="#68ae48" stroke="#468432" stroke-width="0.7"/>
<circle cx="103.75" cy="377.5" r="2.0" fill="#68ae48" stroke="#468432" stroke-width="0.7"/>
<circle cx="106" cy="380" r="2.0" fill="#68ae48" stroke="#468432" stroke-width="0.7"/>
<circle cx="108.5" cy="379" r="2.0" fill="#68ae48" stroke="#468432" stroke-width="0.7"/>
<circle cx="104" cy="381" r="2.0" fill="#68ae48" stroke="#468432" stroke-width="0.7"/>
<circle cx="107" cy="381.5" r="2.0" fill="#68ae48" stroke="#468432" stroke-width="0.7"/>
<circle cx="120.5" cy="361.25" r="1.8" fill="none" stroke="#3b2150" stroke-width="1.35"/>
<circle cx="120" cy="365.75" r="1.8" fill="none" stroke="#3b2150" stroke-width="1.35"/>
<circle cx="117.5" cy="370" r="1.8" fill="none" stroke="#3b2150" stroke-width="1.35"/>
<circle cx="118" cy="375" r="1.8" fill="none" stroke="#3b2150" stroke-width="1.35"/>
<circle cx="122.5" cy="376.25" r="1.8" fill="none" stroke="#3b2150" stroke-width="1.35"/>
<circle cx="118.75" cy="380" r="1.8" fill="none" stroke="#3b2150" stroke-width="1.35"/>
<circle cx="122.5" cy="381.25" r="1.8" fill="none" stroke="#3b2150" stroke-width="1.35"/>
<circle cx="140" cy="374" r="2.0" fill="#68ae48" stroke="#468432" stroke-width="0.7"/>
<circle cx="144" cy="375" r="2.0" fill="#68ae48" stroke="#468432" stroke-width="0.7"/>
<circle cx="141.5" cy="377.5" r="2.0" fill="#68ae48" stroke="#468432" stroke-width="0.7"/>
<circle cx="145" cy="378" r="2.0" fill="#68ae48" stroke="#468432" stroke-width="0.7"/>
<circle cx="140" cy="380" r="2.0" fill="#68ae48" stroke="#468432" stroke-width="0.7"/>
<circle cx="143" cy="381" r="2.0" fill="#68ae48" stroke="#468432" stroke-width="0.7"/>
<circle cx="142" cy="383" r="2.0" fill="#68ae48" stroke="#468432" stroke-width="0.7"/>
<circle cx="157" cy="335.5" r="1.8" fill="none" stroke="#3b2150" stroke-width="1.35"/>
<circle cx="157" cy="348.75" r="1.8" fill="none" stroke="#3b2150" stroke-width="1.35"/>
<circle cx="153.75" cy="363.75" r="1.8" fill="none" stroke="#3b2150" stroke-width="1.35"/>
<circle cx="160" cy="365" r="1.8" fill="none" stroke="#3b2150" stroke-width="1.35"/>
<circle cx="156.25" cy="366.25" r="1.8" fill="none" stroke="#3b2150" stroke-width="1.35"/>
<circle cx="159.5" cy="368.25" r="1.8" fill="none" stroke="#3b2150" stroke-width="1.35"/>
<circle cx="156.25" cy="375" r="1.8" fill="none" stroke="#3b2150" stroke-width="1.35"/>
<line x1="228.1" y1="311.3" x2="228.1" y2="389.1" stroke="#111" stroke-width="1.7"/>
<line x1="227.3" y1="388.3" x2="338.7" y2="388.3" stroke="#111" stroke-width="1.7"/>
<line x1="224.5" y1="388.3" x2="228.1" y2="388.3" stroke="#111" stroke-width="1.3"/>
<text x="221.7" y="390.8" font-size="9.2" text-anchor="end" fill="#333" stroke="#333" stroke-width="0.12">0.00</text>
<line x1="224.5" y1="373.64" x2="228.1" y2="373.64" stroke="#111" stroke-width="1.3"/>
<text x="221.7" y="376.14" font-size="9.2" text-anchor="end" fill="#333" stroke="#333" stroke-width="0.12">0.02</text>
<line x1="224.5" y1="358.98" x2="228.1" y2="358.98" stroke="#111" stroke-width="1.3"/>
<text x="221.7" y="361.48" font-size="9.2" text-anchor="end" fill="#333" stroke="#333" stroke-width="0.12">0.04</text>
<line x1="224.5" y1="344.32" x2="228.1" y2="344.32" stroke="#111" stroke-width="1.3"/>
<text x="221.7" y="346.82" font-size="9.2" text-anchor="end" fill="#333" stroke="#333" stroke-width="0.12">0.06</text>
<line x1="224.5" y1="329.66" x2="228.1" y2="329.66" stroke="#111" stroke-width="1.3"/>
<text x="221.7" y="332.16" font-size="9.2" text-anchor="end" fill="#333" stroke="#333" stroke-width="0.12">0.08</text>
<line x1="224.5" y1="315" x2="228.1" y2="315" stroke="#111" stroke-width="1.3"/>
<text x="221.7" y="317.5" font-size="9.2" text-anchor="end" fill="#333" stroke="#333" stroke-width="0.12">0.10</text>
<line x1="246.3" y1="388.3" x2="246.3" y2="391.5" stroke="#111" stroke-width="1.3"/>
<text x="246.3" y="403.4" font-size="10.8" text-anchor="middle" textLength="12.4" lengthAdjust="spacingAndGlyphs" fill="#333" stroke="#333" stroke-width="0.12">H0</text>
<line x1="282.6" y1="388.3" x2="282.6" y2="391.5" stroke="#111" stroke-width="1.3"/>
<text x="282.6" y="403.4" font-size="10.8" text-anchor="middle" textLength="12.4" lengthAdjust="spacingAndGlyphs" fill="#333" stroke="#333" stroke-width="0.12">H4</text>
<line x1="319.3" y1="388.3" x2="319.3" y2="391.5" stroke="#111" stroke-width="1.3"/>
<text x="319.3" y="403.4" font-size="10.8" text-anchor="middle" textLength="17.3" lengthAdjust="spacingAndGlyphs" fill="#333" stroke="#333" stroke-width="0.12">H24</text>
<text transform="translate(195.9,350) rotate(-90)" x="0" y="0" font-size="10.4" text-anchor="middle" textLength="80" lengthAdjust="spacingAndGlyphs" fill="#333" stroke="#333" stroke-width="0.2">Ratio <tspan font-style="italic">Ifnγ</tspan>/<tspan font-style="italic">L32</tspan> mRNA</text>
<line x1="251.3" y1="296.5" x2="326.3" y2="296.5" stroke="#111" stroke-width="1.2"/>
<text x="288.8" y="293.9" font-size="8.6" text-anchor="middle" textLength="37" lengthAdjust="spacingAndGlyphs" fill="#333" stroke="#333" stroke-width="0.18"><tspan font-style="italic">P</tspan> = .0003</text>
<line x1="238.8" y1="309.5" x2="313.8" y2="309.5" stroke="#111" stroke-width="1.2"/>
<text x="276.3" y="306.9" font-size="8.6" text-anchor="middle" textLength="37" lengthAdjust="spacingAndGlyphs" fill="#333" stroke="#333" stroke-width="0.18"><tspan font-style="italic">P</tspan> = .0023</text>
<line x1="313" y1="322.5" x2="326.3" y2="322.5" stroke="#111" stroke-width="1.2"/>
<text x="319.65" y="319.9" font-size="8.6" text-anchor="middle" textLength="37" lengthAdjust="spacingAndGlyphs" fill="#333" stroke="#333" stroke-width="0.18"><tspan font-style="italic">P</tspan> = .0006</text>
<line x1="239.5" y1="376.5" x2="253" y2="376.5" stroke="#111" stroke-width="1.2"/>
<text x="246.25" y="374.8" font-size="8.4" text-anchor="middle" textLength="8" lengthAdjust="spacingAndGlyphs" fill="#333" stroke="#333" stroke-width="0.18">ns</text>
<line x1="276.3" y1="363.5" x2="290.5" y2="363.5" stroke="#111" stroke-width="1.2"/>
<text x="283.4" y="361.8" font-size="8.4" text-anchor="middle" textLength="8" lengthAdjust="spacingAndGlyphs" fill="#333" stroke="#333" stroke-width="0.18">ns</text>
<circle cx="238" cy="383.5" r="2.0" fill="#68ae48" stroke="#468432" stroke-width="0.7"/>
<circle cx="240.5" cy="384.5" r="2.0" fill="#68ae48" stroke="#468432" stroke-width="0.7"/>
<circle cx="239" cy="386" r="2.0" fill="#68ae48" stroke="#468432" stroke-width="0.7"/>
<circle cx="241" cy="386.5" r="2.0" fill="#68ae48" stroke="#468432" stroke-width="0.7"/>
<circle cx="250.8" cy="385.4" r="1.8" fill="none" stroke="#3b2150" stroke-width="1.35"/>
<circle cx="253.2" cy="383.4" r="1.8" fill="none" stroke="#3b2150" stroke-width="1.35"/>
<circle cx="255.8" cy="382.8" r="1.8" fill="none" stroke="#3b2150" stroke-width="1.35"/>
<circle cx="253" cy="386.2" r="1.8" fill="none" stroke="#3b2150" stroke-width="1.35"/>
<circle cx="256" cy="386" r="1.8" fill="none" stroke="#3b2150" stroke-width="1.35"/>
<circle cx="273.8" cy="386" r="2.0" fill="#68ae48" stroke="#468432" stroke-width="0.7"/>
<circle cx="275.6" cy="385.6" r="2.0" fill="#68ae48" stroke="#468432" stroke-width="0.7"/>
<circle cx="277.4" cy="385.6" r="2.0" fill="#68ae48" stroke="#468432" stroke-width="0.7"/>
<circle cx="279" cy="386" r="2.0" fill="#68ae48" stroke="#468432" stroke-width="0.7"/>
<circle cx="288" cy="386" r="1.8" fill="none" stroke="#3b2150" stroke-width="1.35"/>
<circle cx="290.5" cy="386" r="1.8" fill="none" stroke="#3b2150" stroke-width="1.35"/>
<circle cx="289.5" cy="386.5" r="1.8" fill="none" stroke="#3b2150" stroke-width="1.35"/>
<circle cx="311" cy="377.2" r="2.0" fill="#68ae48" stroke="#468432" stroke-width="0.7"/>
<circle cx="313.8" cy="376.6" r="2.0" fill="#68ae48" stroke="#468432" stroke-width="0.7"/>
<circle cx="311.2" cy="380.2" r="2.0" fill="#68ae48" stroke="#468432" stroke-width="0.7"/>
<circle cx="314" cy="380.8" r="2.0" fill="#68ae48" stroke="#468432" stroke-width="0.7"/>
<circle cx="311.4" cy="383.2" r="2.0" fill="#68ae48" stroke="#468432" stroke-width="0.7"/>
<circle cx="313.4" cy="383.6" r="2.0" fill="#68ae48" stroke="#468432" stroke-width="0.7"/>
<circle cx="326.25" cy="330.5" r="1.8" fill="none" stroke="#3b2150" stroke-width="1.35"/>
<circle cx="326.25" cy="345" r="1.8" fill="none" stroke="#3b2150" stroke-width="1.35"/>
<circle cx="326.25" cy="358.75" r="1.8" fill="none" stroke="#3b2150" stroke-width="1.35"/>
<circle cx="323.75" cy="363.25" r="1.8" fill="none" stroke="#3b2150" stroke-width="1.35"/>
<circle cx="328.75" cy="363.25" r="1.8" fill="none" stroke="#3b2150" stroke-width="1.35"/>
<circle cx="325" cy="366.25" r="1.8" fill="none" stroke="#3b2150" stroke-width="1.35"/>
<circle cx="325.5" cy="367.5" r="1.8" fill="none" stroke="#3b2150" stroke-width="1.35"/>
<line x1="400" y1="311.3" x2="400" y2="353.8" stroke="#111" stroke-width="1.7"/>
<line x1="396.2" y1="353.8" x2="403.5" y2="353.8" stroke="#111" stroke-width="1.4"/>
<line x1="396.2" y1="357.9" x2="403.5" y2="357.9" stroke="#111" stroke-width="1.4"/>
<line x1="400" y1="357.9" x2="400" y2="389.1" stroke="#111" stroke-width="1.7"/>
<line x1="399.2" y1="388.3" x2="510.8" y2="388.3" stroke="#111" stroke-width="1.7"/>
<line x1="396.4" y1="315" x2="400" y2="315" stroke="#111" stroke-width="1.3"/>
<text x="393.4" y="317.5" font-size="9.2" text-anchor="end" fill="#333" stroke="#333" stroke-width="0.12">7500</text>
<line x1="396.4" y1="330" x2="400" y2="330" stroke="#111" stroke-width="1.3"/>
<text x="393.4" y="332.5" font-size="9.2" text-anchor="end" fill="#333" stroke="#333" stroke-width="0.12">5000</text>
<line x1="396.4" y1="344.7" x2="400" y2="344.7" stroke="#111" stroke-width="1.3"/>
<text x="393.4" y="347.2" font-size="9.2" text-anchor="end" fill="#333" stroke="#333" stroke-width="0.12">2500</text>
<text x="393.4" y="360.4" font-size="9.2" text-anchor="end" fill="#333" stroke="#333" stroke-width="0.12">1000</text>
<line x1="396.4" y1="373.2" x2="400" y2="373.2" stroke="#111" stroke-width="1.3"/>
<text x="393.4" y="375.7" font-size="9.2" text-anchor="end" fill="#333" stroke="#333" stroke-width="0.12">500</text>
<line x1="396.4" y1="388.3" x2="400" y2="388.3" stroke="#111" stroke-width="1.3"/>
<text x="393.4" y="390.8" font-size="9.2" text-anchor="end" fill="#333" stroke="#333" stroke-width="0.12">0</text>
<line x1="416.6" y1="388.3" x2="416.6" y2="391.5" stroke="#111" stroke-width="1.3"/>
<text x="416.6" y="403.4" font-size="10.8" text-anchor="middle" textLength="12.4" lengthAdjust="spacingAndGlyphs" fill="#333" stroke="#333" stroke-width="0.12">H0</text>
<line x1="454.3" y1="388.3" x2="454.3" y2="391.5" stroke="#111" stroke-width="1.3"/>
<text x="454.3" y="403.4" font-size="10.8" text-anchor="middle" textLength="12.4" lengthAdjust="spacingAndGlyphs" fill="#333" stroke="#333" stroke-width="0.12">H4</text>
<line x1="492.5" y1="388.3" x2="492.5" y2="391.5" stroke="#111" stroke-width="1.3"/>
<text x="492.5" y="403.4" font-size="10.8" text-anchor="middle" textLength="17.3" lengthAdjust="spacingAndGlyphs" fill="#333" stroke="#333" stroke-width="0.12">H24</text>
<text transform="translate(366.4,350) rotate(-90)" x="0" y="0" font-size="10.4" text-anchor="middle" textLength="54" lengthAdjust="spacingAndGlyphs" fill="#333" stroke="#333" stroke-width="0.2">IFN-γ (pg/mL)</text>
<line x1="423.8" y1="335.5" x2="462" y2="335.5" stroke="#111" stroke-width="1.2"/>
<text x="442.9" y="332.9" font-size="8.6" text-anchor="middle" textLength="37" lengthAdjust="spacingAndGlyphs" fill="#333" stroke="#333" stroke-width="0.18"><tspan font-style="italic">P</tspan> = .0003</text>
<line x1="410" y1="350.5" x2="447.5" y2="350.5" stroke="#111" stroke-width="1.2"/>
<text x="428.75" y="347.9" font-size="8.6" text-anchor="middle" textLength="37" lengthAdjust="spacingAndGlyphs" fill="#333" stroke="#333" stroke-width="0.18"><tspan font-style="italic">P</tspan> = .0003</text>
<line x1="448" y1="366.5" x2="461.3" y2="366.5" stroke="#111" stroke-width="1.2"/>
<text x="454.65" y="363.9" font-size="8.6" text-anchor="middle" textLength="37" lengthAdjust="spacingAndGlyphs" fill="#333" stroke="#333" stroke-width="0.18"><tspan font-style="italic">P</tspan> = .0042</text>
<line x1="486.3" y1="318.5" x2="500" y2="318.5" stroke="#111" stroke-width="1.2"/>
<text x="493.15" y="315.9" font-size="8.6" text-anchor="middle" textLength="37" lengthAdjust="spacingAndGlyphs" fill="#333" stroke="#333" stroke-width="0.18"><tspan font-style="italic">P</tspan> = .0006</text>
<circle cx="408.2" cy="388.3" r="2.0" fill="#68ae48" stroke="#468432" stroke-width="0.7"/>
<circle cx="408.8" cy="388.3" r="2.0" fill="#68ae48" stroke="#468432" stroke-width="0.7"/>
<circle cx="409.4" cy="388.3" r="2.0" fill="#68ae48" stroke="#468432" stroke-width="0.7"/>
<circle cx="410" cy="388.3" r="2.0" fill="#68ae48" stroke="#468432" stroke-width="0.7"/>
<circle cx="410.6" cy="388.3" r="2.0" fill="#68ae48" stroke="#468432" stroke-width="0.7"/>
<circle cx="411.2" cy="388.3" r="2.0" fill="#68ae48" stroke="#468432" stroke-width="0.7"/>
<circle cx="421.6" cy="388.3" r="1.8" fill="none" stroke="#3b2150" stroke-width="1.35"/>
<circle cx="422.43" cy="388.3" r="1.8" fill="none" stroke="#3b2150" stroke-width="1.35"/>
<circle cx="423.27" cy="388.3" r="1.8" fill="none" stroke="#3b2150" stroke-width="1.35"/>
<circle cx="424.1" cy="388.3" r="1.8" fill="none" stroke="#3b2150" stroke-width="1.35"/>
<circle cx="424.93" cy="388.3" r="1.8" fill="none" stroke="#3b2150" stroke-width="1.35"/>
<circle cx="425.77" cy="388.3" r="1.8" fill="none" stroke="#3b2150" stroke-width="1.35"/>
<circle cx="426.6" cy="388.3" r="1.8" fill="none" stroke="#3b2150" stroke-width="1.35"/>
<circle cx="445.5" cy="386.25" r="2.0" fill="#68ae48" stroke="#468432" stroke-width="0.7"/>
<circle cx="448" cy="386" r="2.0" fill="#68ae48" stroke="#468432" stroke-width="0.7"/>
<circle cx="450" cy="385.5" r="2.0" fill="#68ae48" stroke="#468432" stroke-width="0.7"/>
<circle cx="457.5" cy="378" r="1.8" fill="none" stroke="#3b2150" stroke-width="1.35"/>
<circle cx="462.5" cy="378" r="1.8" fill="none" stroke="#3b2150" stroke-width="1.35"/>
<circle cx="460" cy="382.5" r="1.8" fill="none" stroke="#3b2150" stroke-width="1.35"/>
<circle cx="462.5" cy="385" r="1.8" fill="none" stroke="#3b2150" stroke-width="1.35"/>
<circle cx="460" cy="385.5" r="1.8" fill="none" stroke="#3b2150" stroke-width="1.35"/>
<circle cx="464.5" cy="385.5" r="1.8" fill="none" stroke="#3b2150" stroke-width="1.35"/>
<circle cx="483" cy="365" r="2.0" fill="#68ae48" stroke="#468432" stroke-width="0.7"/>
<circle cx="488.75" cy="365" r="2.0" fill="#68ae48" stroke="#468432" stroke-width="0.7"/>
<circle cx="485" cy="371.25" r="2.0" fill="#68ae48" stroke="#468432" stroke-width="0.7"/>
<circle cx="483" cy="377" r="2.0" fill="#68ae48" stroke="#468432" stroke-width="0.7"/>
<circle cx="487" cy="376.25" r="2.0" fill="#68ae48" stroke="#468432" stroke-width="0.7"/>
<circle cx="486.25" cy="380" r="2.0" fill="#68ae48" stroke="#468432" stroke-width="0.7"/>
<circle cx="485.5" cy="385.5" r="2.0" fill="#68ae48" stroke="#468432" stroke-width="0.7"/>
<circle cx="497.6" cy="327.1" r="1.8" fill="none" stroke="#3b2150" stroke-width="1.35"/>
<circle cx="500.2" cy="327.4" r="1.8" fill="none" stroke="#3b2150" stroke-width="1.35"/>
<circle cx="502.8" cy="327.1" r="1.8" fill="none" stroke="#3b2150" stroke-width="1.35"/>
<circle cx="497.9" cy="336.9" r="1.8" fill="none" stroke="#3b2150" stroke-width="1.35"/>
<circle cx="502.8" cy="336.9" r="1.8" fill="none" stroke="#3b2150" stroke-width="1.35"/>
<circle cx="500" cy="349.1" r="1.8" fill="none" stroke="#3b2150" stroke-width="1.35"/>
<line x1="58.1" y1="455.8" x2="58.1" y2="533.3" stroke="#111" stroke-width="1.7"/>
<line x1="57.3" y1="532.5" x2="168" y2="532.5" stroke="#111" stroke-width="1.7"/>
<line x1="54.5" y1="532.5" x2="58.1" y2="532.5" stroke="#111" stroke-width="1.3"/>
<text x="50.8" y="535" font-size="9.2" text-anchor="end" fill="#333" stroke="#333" stroke-width="0.12">0.0</text>
<line x1="54.5" y1="517.84" x2="58.1" y2="517.84" stroke="#111" stroke-width="1.3"/>
<text x="50.8" y="520.34" font-size="9.2" text-anchor="end" fill="#333" stroke="#333" stroke-width="0.12">0.1</text>
<line x1="54.5" y1="503.18" x2="58.1" y2="503.18" stroke="#111" stroke-width="1.3"/>
<text x="50.8" y="505.68" font-size="9.2" text-anchor="end" fill="#333" stroke="#333" stroke-width="0.12">0.2</text>
<line x1="54.5" y1="488.52" x2="58.1" y2="488.52" stroke="#111" stroke-width="1.3"/>
<text x="50.8" y="491.02" font-size="9.2" text-anchor="end" fill="#333" stroke="#333" stroke-width="0.12">0.3</text>
<line x1="54.5" y1="473.86" x2="58.1" y2="473.86" stroke="#111" stroke-width="1.3"/>
<text x="50.8" y="476.36" font-size="9.2" text-anchor="end" fill="#333" stroke="#333" stroke-width="0.12">0.4</text>
<line x1="54.5" y1="459.2" x2="58.1" y2="459.2" stroke="#111" stroke-width="1.3"/>
<text x="50.8" y="461.7" font-size="9.2" text-anchor="end" fill="#333" stroke="#333" stroke-width="0.12">0.5</text>
<line x1="76.5" y1="532.5" x2="76.5" y2="535.7" stroke="#111" stroke-width="1.3"/>
<text x="76.5" y="547.6" font-size="10.8" text-anchor="middle" textLength="12.4" lengthAdjust="spacingAndGlyphs" fill="#333" stroke="#333" stroke-width="0.12">H0</text>
<line x1="113" y1="532.5" x2="113" y2="535.7" stroke="#111" stroke-width="1.3"/>
<text x="113" y="547.6" font-size="10.8" text-anchor="middle" textLength="12.4" lengthAdjust="spacingAndGlyphs" fill="#333" stroke="#333" stroke-width="0.12">H4</text>
<line x1="149.8" y1="532.5" x2="149.8" y2="535.7" stroke="#111" stroke-width="1.3"/>
<text x="149.8" y="547.6" font-size="10.8" text-anchor="middle" textLength="17.3" lengthAdjust="spacingAndGlyphs" fill="#333" stroke="#333" stroke-width="0.12">H24</text>
<text transform="translate(32.15,494.12) rotate(-90)" x="0" y="0" font-size="10.4" text-anchor="middle" textLength="85.75" lengthAdjust="spacingAndGlyphs" fill="#333" stroke="#333" stroke-width="0.2">Ratio <tspan font-style="italic">Cxcl9</tspan>/<tspan font-style="italic">L32</tspan> mRNA</text>
<line x1="80.5" y1="432.5" x2="155.5" y2="432.5" stroke="#111" stroke-width="1.2"/>
<text x="118" y="429.9" font-size="8.6" text-anchor="middle" textLength="37" lengthAdjust="spacingAndGlyphs" fill="#333" stroke="#333" stroke-width="0.18"><tspan font-style="italic">P</tspan> = .0003</text>
<line x1="68.75" y1="446.5" x2="143" y2="446.5" stroke="#111" stroke-width="1.2"/>
<text x="105.88" y="443.9" font-size="8.6" text-anchor="middle" textLength="37" lengthAdjust="spacingAndGlyphs" fill="#333" stroke="#333" stroke-width="0.18"><tspan font-style="italic">P</tspan> = .0006</text>
<line x1="143" y1="459.5" x2="156.3" y2="459.5" stroke="#111" stroke-width="1.2"/>
<text x="149.65" y="456.9" font-size="8.6" text-anchor="middle" textLength="37" lengthAdjust="spacingAndGlyphs" fill="#333" stroke="#333" stroke-width="0.18"><tspan font-style="italic">P</tspan> = .0006</text>
<line x1="80.5" y1="467.5" x2="119.5" y2="467.5" stroke="#111" stroke-width="1.2"/>
<text x="100" y="464.9" font-size="8.6" text-anchor="middle" textLength="37" lengthAdjust="spacingAndGlyphs" fill="#333" stroke="#333" stroke-width="0.18"><tspan font-style="italic">P</tspan> = .0003</text>
<line x1="67.5" y1="482.5" x2="105" y2="482.5" stroke="#111" stroke-width="1.2"/>
<text x="86.25" y="479.9" font-size="8.6" text-anchor="middle" textLength="37" lengthAdjust="spacingAndGlyphs" fill="#333" stroke="#333" stroke-width="0.18"><tspan font-style="italic">P</tspan> = .0003</text>
<line x1="68.75" y1="518.5" x2="82" y2="518.5" stroke="#111" stroke-width="1.2"/>
<text x="75.38" y="516.8" font-size="8.4" text-anchor="middle" textLength="8" lengthAdjust="spacingAndGlyphs" fill="#333" stroke="#333" stroke-width="0.18">ns</text>
<line x1="106.25" y1="496.5" x2="120" y2="496.5" stroke="#111" stroke-width="1.2"/>
<text x="113.12" y="494.8" font-size="8.4" text-anchor="middle" textLength="8" lengthAdjust="spacingAndGlyphs" fill="#333" stroke="#333" stroke-width="0.18">ns</text>
<circle cx="67.4" cy="529.8" r="2.0" fill="#68ae48" stroke="#468432" stroke-width="0.7"/>
<circle cx="68.18" cy="529.8" r="2.0" fill="#68ae48" stroke="#468432" stroke-width="0.7"/>
<circle cx="68.97" cy="529.8" r="2.0" fill="#68ae48" stroke="#468432" stroke-width="0.7"/>
<circle cx="69.75" cy="529.8" r="2.0" fill="#68ae48" stroke="#468432" stroke-width="0.7"/>
<circle cx="70.53" cy="529.8" r="2.0" fill="#68ae48" stroke="#468432" stroke-width="0.7"/>
<circle cx="71.32" cy="529.8" r="2.0" fill="#68ae48" stroke="#468432" stroke-width="0.7"/>
<circle cx="72.1" cy="529.8" r="2.0" fill="#68ae48" stroke="#468432" stroke-width="0.7"/>
<circle cx="67.5" cy="528.6" r="2.0" fill="#68ae48" stroke="#468432" stroke-width="0.7"/>
<circle cx="72" cy="528.6" r="2.0" fill="#68ae48" stroke="#468432" stroke-width="0.7"/>
<circle cx="80.2" cy="529.8" r="1.8" fill="none" stroke="#3b2150" stroke-width="1.35"/>
<circle cx="81.07" cy="529.8" r="1.8" fill="none" stroke="#3b2150" stroke-width="1.35"/>
<circle cx="81.94" cy="529.8" r="1.8" fill="none" stroke="#3b2150" stroke-width="1.35"/>
<circle cx="82.81" cy="529.8" r="1.8" fill="none" stroke="#3b2150" stroke-width="1.35"/>
<circle cx="83.69" cy="529.8" r="1.8" fill="none" stroke="#3b2150" stroke-width="1.35"/>
<circle cx="84.56" cy="529.8" r="1.8" fill="none" stroke="#3b2150" stroke-width="1.35"/>
<circle cx="85.43" cy="529.8" r="1.8" fill="none" stroke="#3b2150" stroke-width="1.35"/>
<circle cx="86.3" cy="529.8" r="1.8" fill="none" stroke="#3b2150" stroke-width="1.35"/>
<circle cx="103" cy="510" r="2.0" fill="#68ae48" stroke="#468432" stroke-width="0.7"/>
<circle cx="108.75" cy="509.5" r="2.0" fill="#68ae48" stroke="#468432" stroke-width="0.7"/>
<circle cx="103" cy="515" r="2.0" fill="#68ae48" stroke="#468432" stroke-width="0.7"/>
<circle cx="106" cy="517.5" r="2.0" fill="#68ae48" stroke="#468432" stroke-width="0.7"/>
<circle cx="103" cy="520" r="2.0" fill="#68ae48" stroke="#468432" stroke-width="0.7"/>
<circle cx="108" cy="521" r="2.0" fill="#68ae48" stroke="#468432" stroke-width="0.7"/>
<circle cx="105" cy="523.75" r="2.0" fill="#68ae48" stroke="#468432" stroke-width="0.7"/>
<circle cx="107" cy="525" r="2.0" fill="#68ae48" stroke="#468432" stroke-width="0.7"/>
<circle cx="117" cy="503" r="1.8" fill="none" stroke="#3b2150" stroke-width="1.35"/>
<circle cx="122.5" cy="503" r="1.8" fill="none" stroke="#3b2150" stroke-width="1.35"/>
<circle cx="119.5" cy="506.25" r="1.8" fill="none" stroke="#3b2150" stroke-width="1.35"/>
<circle cx="122" cy="508.75" r="1.8" fill="none" stroke="#3b2150" stroke-width="1.35"/>
<circle cx="118.75" cy="508.75" r="1.8" fill="none" stroke="#3b2150" stroke-width="1.35"/>
<circle cx="117.5" cy="521.25" r="1.8" fill="none" stroke="#3b2150" stroke-width="1.35"/>
<circle cx="121.25" cy="523.75" r="1.8" fill="none" stroke="#3b2150" stroke-width="1.35"/>
<circle cx="119.5" cy="525.75" r="1.8" fill="none" stroke="#3b2150" stroke-width="1.35"/>
<circle cx="143" cy="514.5" r="2.0" fill="#68ae48" stroke="#468432" stroke-width="0.7"/>
<circle cx="139" cy="519" r="2.0" fill="#68ae48" stroke="#468432" stroke-width="0.7"/>
<circle cx="143" cy="519" r="2.0" fill="#68ae48" stroke="#468432" stroke-width="0.7"/>
<circle cx="146" cy="519.5" r="2.0" fill="#68ae48" stroke="#468432" stroke-width="0.7"/>
<circle cx="140" cy="522" r="2.0" fill="#68ae48" stroke="#468432" stroke-width="0.7"/>
<circle cx="144" cy="523" r="2.0" fill="#68ae48" stroke="#468432" stroke-width="0.7"/>
<circle cx="141" cy="525.5" r="2.0" fill="#68ae48" stroke="#468432" stroke-width="0.7"/>
<circle cx="145" cy="525.5" r="2.0" fill="#68ae48" stroke="#468432" stroke-width="0.7"/>
<circle cx="157" cy="466.25" r="1.8" fill="none" stroke="#3b2150" stroke-width="1.35"/>
<circle cx="158.75" cy="470" r="1.8" fill="none" stroke="#3b2150" stroke-width="1.35"/>
<circle cx="153.75" cy="475" r="1.8" fill="none" stroke="#3b2150" stroke-width="1.35"/>
<circle cx="154.5" cy="502" r="1.8" fill="none" stroke="#3b2150" stroke-width="1.35"/>
<circle cx="158.75" cy="500.5" r="1.8" fill="none" stroke="#3b2150" stroke-width="1.35"/>
<circle cx="156.25" cy="502.5" r="1.8" fill="none" stroke="#3b2150" stroke-width="1.35"/>
<circle cx="157" cy="511.25" r="1.8" fill="none" stroke="#3b2150" stroke-width="1.35"/>
<line x1="228.1" y1="455.8" x2="228.1" y2="533.3" stroke="#111" stroke-width="1.7"/>
<line x1="227.3" y1="532.5" x2="338.7" y2="532.5" stroke="#111" stroke-width="1.7"/>
<line x1="224.5" y1="532.5" x2="228.1" y2="532.5" stroke="#111" stroke-width="1.3"/>
<text x="222.3" y="535" font-size="9.2" text-anchor="end" fill="#333" stroke="#333" stroke-width="0.12">0</text>
<line x1="224.5" y1="514.25" x2="228.1" y2="514.25" stroke="#111" stroke-width="1.3"/>
<text x="222.3" y="516.75" font-size="9.2" text-anchor="end" fill="#333" stroke="#333" stroke-width="0.12">5</text>
<line x1="224.5" y1="495.9" x2="228.1" y2="495.9" stroke="#111" stroke-width="1.3"/>
<text x="222.3" y="498.4" font-size="9.2" text-anchor="end" fill="#333" stroke="#333" stroke-width="0.12">10</text>
<line x1="224.5" y1="477.6" x2="228.1" y2="477.6" stroke="#111" stroke-width="1.3"/>
<text x="222.3" y="480.1" font-size="9.2" text-anchor="end" fill="#333" stroke="#333" stroke-width="0.12">15</text>
<line x1="224.5" y1="459.2" x2="228.1" y2="459.2" stroke="#111" stroke-width="1.3"/>
<text x="222.3" y="461.7" font-size="9.2" text-anchor="end" fill="#333" stroke="#333" stroke-width="0.12">20</text>
<line x1="246.3" y1="532.5" x2="246.3" y2="535.7" stroke="#111" stroke-width="1.3"/>
<text x="246.3" y="547.6" font-size="10.8" text-anchor="middle" textLength="12.4" lengthAdjust="spacingAndGlyphs" fill="#333" stroke="#333" stroke-width="0.12">H0</text>
<line x1="282.6" y1="532.5" x2="282.6" y2="535.7" stroke="#111" stroke-width="1.3"/>
<text x="282.6" y="547.6" font-size="10.8" text-anchor="middle" textLength="12.4" lengthAdjust="spacingAndGlyphs" fill="#333" stroke="#333" stroke-width="0.12">H4</text>
<line x1="319.3" y1="532.5" x2="319.3" y2="535.7" stroke="#111" stroke-width="1.3"/>
<text x="319.3" y="547.6" font-size="10.8" text-anchor="middle" textLength="17.3" lengthAdjust="spacingAndGlyphs" fill="#333" stroke="#333" stroke-width="0.12">H24</text>
<text transform="translate(204.65,494.38) rotate(-90)" x="0" y="0" font-size="10.4" text-anchor="middle" textLength="86.25" lengthAdjust="spacingAndGlyphs" fill="#333" stroke="#333" stroke-width="0.2">Ratio <tspan font-style="italic">Cxcl9</tspan>/<tspan font-style="italic">L32</tspan> mRNA</text>
<line x1="251.3" y1="442.5" x2="326.3" y2="442.5" stroke="#111" stroke-width="1.2"/>
<text x="288.8" y="439.9" font-size="8.6" text-anchor="middle" textLength="37" lengthAdjust="spacingAndGlyphs" fill="#333" stroke="#333" stroke-width="0.18"><tspan font-style="italic">P</tspan> = .0003</text>
<line x1="239.5" y1="454.5" x2="313.8" y2="454.5" stroke="#111" stroke-width="1.2"/>
<text x="276.65" y="451.9" font-size="8.6" text-anchor="middle" textLength="37" lengthAdjust="spacingAndGlyphs" fill="#333" stroke="#333" stroke-width="0.18"><tspan font-style="italic">P</tspan> = .0006</text>
<line x1="313.3" y1="470.5" x2="326.3" y2="470.5" stroke="#111" stroke-width="1.2"/>
<text x="319.8" y="467.9" font-size="8.6" text-anchor="middle" textLength="37" lengthAdjust="spacingAndGlyphs" fill="#333" stroke="#333" stroke-width="0.18"><tspan font-style="italic">P</tspan> = .0041</text>
<line x1="252" y1="474.5" x2="290.5" y2="474.5" stroke="#111" stroke-width="1.2"/>
<text x="271.25" y="471.9" font-size="8.6" text-anchor="middle" textLength="37" lengthAdjust="spacingAndGlyphs" fill="#333" stroke="#333" stroke-width="0.18"><tspan font-style="italic">P</tspan> = .0003</text>
<line x1="238.8" y1="490.5" x2="276.3" y2="490.5" stroke="#111" stroke-width="1.2"/>
<text x="257.55" y="487.9" font-size="8.6" text-anchor="middle" textLength="37" lengthAdjust="spacingAndGlyphs" fill="#333" stroke="#333" stroke-width="0.18"><tspan font-style="italic">P</tspan> = .0003</text>
<line x1="240" y1="525.5" x2="253.8" y2="525.5" stroke="#111" stroke-width="1.2"/>
<text x="246.9" y="523.8" font-size="8.4" text-anchor="middle" textLength="8" lengthAdjust="spacingAndGlyphs" fill="#333" stroke="#333" stroke-width="0.18">ns</text>
<line x1="277" y1="503.5" x2="290.5" y2="503.5" stroke="#111" stroke-width="1.2"/>
<text x="283.75" y="501.8" font-size="8.4" text-anchor="middle" textLength="8" lengthAdjust="spacingAndGlyphs" fill="#333" stroke="#333" stroke-width="0.18">ns</text>
<circle cx="237.9" cy="532.5" r="2.0" fill="#68ae48" stroke="#468432" stroke-width="0.7"/>
<circle cx="238.56" cy="532.5" r="2.0" fill="#68ae48" stroke="#468432" stroke-width="0.7"/>
<circle cx="239.22" cy="532.5" r="2.0" fill="#68ae48" stroke="#468432" stroke-width="0.7"/>
<circle cx="239.88" cy="532.5" r="2.0" fill="#68ae48" stroke="#468432" stroke-width="0.7"/>
<circle cx="240.54" cy="532.5" r="2.0" fill="#68ae48" stroke="#468432" stroke-width="0.7"/>
<circle cx="241.2" cy="532.5" r="2.0" fill="#68ae48" stroke="#468432" stroke-width="0.7"/>
<circle cx="250.6" cy="532.5" r="1.8" fill="none" stroke="#3b2150" stroke-width="1.35"/>
<circle cx="251.42" cy="532.5" r="1.8" fill="none" stroke="#3b2150" stroke-width="1.35"/>
<circle cx="252.23" cy="532.5" r="1.8" fill="none" stroke="#3b2150" stroke-width="1.35"/>
<circle cx="253.05" cy="532.5" r="1.8" fill="none" stroke="#3b2150" stroke-width="1.35"/>
<circle cx="253.87" cy="532.5" r="1.8" fill="none" stroke="#3b2150" stroke-width="1.35"/>
<circle cx="254.68" cy="532.5" r="1.8" fill="none" stroke="#3b2150" stroke-width="1.35"/>
<circle cx="255.5" cy="532.5" r="1.8" fill="none" stroke="#3b2150" stroke-width="1.35"/>
<circle cx="274.2" cy="518.2" r="2.0" fill="#68ae48" stroke="#468432" stroke-width="0.7"/>
<circle cx="277.8" cy="518.2" r="2.0" fill="#68ae48" stroke="#468432" stroke-width="0.7"/>
<circle cx="274.2" cy="521.6" r="2.0" fill="#68ae48" stroke="#468432" stroke-width="0.7"/>
<circle cx="277.8" cy="521.6" r="2.0" fill="#68ae48" stroke="#468432" stroke-width="0.7"/>
<circle cx="276" cy="519.8" r="2.0" fill="#68ae48" stroke="#468432" stroke-width="0.7"/>
<circle cx="276" cy="522.2" r="2.0" fill="#68ae48" stroke="#468432" stroke-width="0.7"/>
<circle cx="276" cy="526.3" r="2.0" fill="#68ae48" stroke="#468432" stroke-width="0.7"/>
<circle cx="290" cy="509.2" r="1.8" fill="none" stroke="#3b2150" stroke-width="1.35"/>
<circle cx="288.1" cy="522.6" r="1.8" fill="none" stroke="#3b2150" stroke-width="1.35"/>
<circle cx="291.8" cy="521.9" r="1.8" fill="none" stroke="#3b2150" stroke-width="1.35"/>
<circle cx="288.1" cy="525.6" r="1.8" fill="none" stroke="#3b2150" stroke-width="1.35"/>
<circle cx="291.8" cy="527.3" r="1.8" fill="none" stroke="#3b2150" stroke-width="1.35"/>
<circle cx="290" cy="529.6" r="1.8" fill="none" stroke="#3b2150" stroke-width="1.35"/>
<circle cx="312.5" cy="504.5" r="2.0" fill="#68ae48" stroke="#468432" stroke-width="0.7"/>
<circle cx="310.5" cy="516.25" r="2.0" fill="#68ae48" stroke="#468432" stroke-width="0.7"/>
<circle cx="313.75" cy="520" r="2.0" fill="#68ae48" stroke="#468432" stroke-width="0.7"/>
<circle cx="310.5" cy="521.25" r="2.0" fill="#68ae48" stroke="#468432" stroke-width="0.7"/>
<circle cx="315" cy="522.5" r="2.0" fill="#68ae48" stroke="#468432" stroke-width="0.7"/>
<circle cx="312.5" cy="525" r="2.0" fill="#68ae48" stroke="#468432" stroke-width="0.7"/>
<circle cx="311.25" cy="526.25" r="2.0" fill="#68ae48" stroke="#468432" stroke-width="0.7"/>
<circle cx="326.25" cy="479.5" r="1.8" fill="none" stroke="#3b2150" stroke-width="1.35"/>
<circle cx="326.25" cy="493" r="1.8" fill="none" stroke="#3b2150" stroke-width="1.35"/>
<circle cx="324.5" cy="498.75" r="1.8" fill="none" stroke="#3b2150" stroke-width="1.35"/>
<circle cx="328.75" cy="502.5" r="1.8" fill="none" stroke="#3b2150" stroke-width="1.35"/>
<circle cx="324.5" cy="511.25" r="1.8" fill="none" stroke="#3b2150" stroke-width="1.35"/>
<circle cx="326.25" cy="515.5" r="1.8" fill="none" stroke="#3b2150" stroke-width="1.35"/>
<circle cx="328.75" cy="515.5" r="1.8" fill="none" stroke="#3b2150" stroke-width="1.35"/>
<line x1="400" y1="455.8" x2="400" y2="533.3" stroke="#111" stroke-width="1.7"/>
<line x1="399.2" y1="532.5" x2="510.8" y2="532.5" stroke="#111" stroke-width="1.7"/>
<line x1="396.4" y1="532.5" x2="400" y2="532.5" stroke="#111" stroke-width="1.3"/>
<text x="393.6" y="535" font-size="9.2" text-anchor="end" fill="#333" stroke="#333" stroke-width="0.12">0</text>
<line x1="396.4" y1="514.25" x2="400" y2="514.25" stroke="#111" stroke-width="1.3"/>
<text x="393.6" y="516.75" font-size="9.2" text-anchor="end" fill="#333" stroke="#333" stroke-width="0.12">100</text>
<line x1="396.4" y1="495.9" x2="400" y2="495.9" stroke="#111" stroke-width="1.3"/>
<text x="393.6" y="498.4" font-size="9.2" text-anchor="end" fill="#333" stroke="#333" stroke-width="0.12">200</text>
<line x1="396.4" y1="477.6" x2="400" y2="477.6" stroke="#111" stroke-width="1.3"/>
<text x="393.6" y="480.1" font-size="9.2" text-anchor="end" fill="#333" stroke="#333" stroke-width="0.12">300</text>
<line x1="396.4" y1="459.2" x2="400" y2="459.2" stroke="#111" stroke-width="1.3"/>
<text x="393.6" y="461.7" font-size="9.2" text-anchor="end" fill="#333" stroke="#333" stroke-width="0.12">400</text>
<line x1="416.6" y1="532.5" x2="416.6" y2="535.7" stroke="#111" stroke-width="1.3"/>
<text x="416.6" y="547.6" font-size="10.8" text-anchor="middle" textLength="12.4" lengthAdjust="spacingAndGlyphs" fill="#333" stroke="#333" stroke-width="0.12">H0</text>
<line x1="454.3" y1="532.5" x2="454.3" y2="535.7" stroke="#111" stroke-width="1.3"/>
<text x="454.3" y="547.6" font-size="10.8" text-anchor="middle" textLength="12.4" lengthAdjust="spacingAndGlyphs" fill="#333" stroke="#333" stroke-width="0.12">H4</text>
<line x1="492.5" y1="532.5" x2="492.5" y2="535.7" stroke="#111" stroke-width="1.3"/>
<text x="492.5" y="547.6" font-size="10.8" text-anchor="middle" textLength="17.3" lengthAdjust="spacingAndGlyphs" fill="#333" stroke="#333" stroke-width="0.12">H24</text>
<text transform="translate(371.4,494.25) rotate(-90)" x="0" y="0" font-size="10.4" text-anchor="middle" textLength="57.5" lengthAdjust="spacingAndGlyphs" fill="#333" stroke="#333" stroke-width="0.2">CXCL9 (ng/mL)</text>
<line x1="423.8" y1="436.5" x2="499.5" y2="436.5" stroke="#111" stroke-width="1.2"/>
<text x="461.65" y="433.9" font-size="8.6" text-anchor="middle" textLength="37" lengthAdjust="spacingAndGlyphs" fill="#333" stroke="#333" stroke-width="0.18"><tspan font-style="italic">P</tspan> = .0286</text>
<line x1="410.5" y1="451.5" x2="485.5" y2="451.5" stroke="#111" stroke-width="1.2"/>
<text x="448" y="448.9" font-size="8.6" text-anchor="middle" textLength="37" lengthAdjust="spacingAndGlyphs" fill="#333" stroke="#333" stroke-width="0.18"><tspan font-style="italic">P</tspan> = .0571</text>
<line x1="486.3" y1="464.5" x2="500" y2="464.5" stroke="#111" stroke-width="1.2"/>
<text x="493.15" y="461.9" font-size="8.6" text-anchor="middle" textLength="37" lengthAdjust="spacingAndGlyphs" fill="#333" stroke="#333" stroke-width="0.18"><tspan font-style="italic">P</tspan> = .0286</text>
<line x1="409.5" y1="484.5" x2="447" y2="484.5" stroke="#111" stroke-width="1.2"/>
<text x="428.25" y="481.9" font-size="8.6" text-anchor="middle" textLength="37" lengthAdjust="spacingAndGlyphs" fill="#333" stroke="#333" stroke-width="0.18"><tspan font-style="italic">P</tspan> = .0357</text>
<line x1="410.5" y1="524.5" x2="423.8" y2="524.5" stroke="#111" stroke-width="1.2"/>
<text x="417.15" y="522.8" font-size="8.4" text-anchor="middle" textLength="8" lengthAdjust="spacingAndGlyphs" fill="#333" stroke="#333" stroke-width="0.18">ns</text>
<line x1="448" y1="499.5" x2="462" y2="499.5" stroke="#111" stroke-width="1.2"/>
<text x="455" y="497.8" font-size="8.4" text-anchor="middle" textLength="8" lengthAdjust="spacingAndGlyphs" fill="#333" stroke="#333" stroke-width="0.18">ns</text>
<circle cx="407.6" cy="532.5" r="2.0" fill="#68ae48" stroke="#468432" stroke-width="0.7"/>
<circle cx="408.4" cy="532.5" r="2.0" fill="#68ae48" stroke="#468432" stroke-width="0.7"/>
<circle cx="409.2" cy="532.5" r="2.0" fill="#68ae48" stroke="#468432" stroke-width="0.7"/>
<circle cx="410" cy="532.5" r="2.0" fill="#68ae48" stroke="#468432" stroke-width="0.7"/>
<circle cx="410.8" cy="532.5" r="2.0" fill="#68ae48" stroke="#468432" stroke-width="0.7"/>
<circle cx="411.6" cy="532.5" r="2.0" fill="#68ae48" stroke="#468432" stroke-width="0.7"/>
<circle cx="421" cy="532.5" r="1.8" fill="none" stroke="#3b2150" stroke-width="1.35"/>
<circle cx="421.8" cy="532.5" r="1.8" fill="none" stroke="#3b2150" stroke-width="1.35"/>
<circle cx="422.6" cy="532.5" r="1.8" fill="none" stroke="#3b2150" stroke-width="1.35"/>
<circle cx="423.4" cy="532.5" r="1.8" fill="none" stroke="#3b2150" stroke-width="1.35"/>
<circle cx="424.2" cy="532.5" r="1.8" fill="none" stroke="#3b2150" stroke-width="1.35"/>
<circle cx="425" cy="532.5" r="1.8" fill="none" stroke="#3b2150" stroke-width="1.35"/>
<circle cx="425.8" cy="532.5" r="1.8" fill="none" stroke="#3b2150" stroke-width="1.35"/>
<circle cx="447.5" cy="507.5" r="2.0" fill="#68ae48" stroke="#468432" stroke-width="0.7"/>
<circle cx="444.5" cy="511.75" r="2.0" fill="#68ae48" stroke="#468432" stroke-width="0.7"/>
<circle cx="450" cy="511.75" r="2.0" fill="#68ae48" stroke="#468432" stroke-width="0.7"/>
<circle cx="446" cy="515.5" r="2.0" fill="#68ae48" stroke="#468432" stroke-width="0.7"/>
<circle cx="449.5" cy="516.25" r="2.0" fill="#68ae48" stroke="#468432" stroke-width="0.7"/>
<circle cx="447" cy="517" r="2.0" fill="#68ae48" stroke="#468432" stroke-width="0.7"/>
<circle cx="462" cy="514.4" r="1.8" fill="none" stroke="#3b2150" stroke-width="1.35"/>
<circle cx="462" cy="520" r="1.8" fill="none" stroke="#3b2150" stroke-width="1.35"/>
<circle cx="459.3" cy="526.3" r="1.8" fill="none" stroke="#3b2150" stroke-width="1.35"/>
<circle cx="464.4" cy="525.8" r="1.8" fill="none" stroke="#3b2150" stroke-width="1.35"/>
<circle cx="485" cy="515" r="2.0" fill="#68ae48" stroke="#468432" stroke-width="0.7"/>
<circle cx="483" cy="518" r="2.0" fill="#68ae48" stroke="#468432" stroke-width="0.7"/>
<circle cx="488" cy="518" r="2.0" fill="#68ae48" stroke="#468432" stroke-width="0.7"/>
<circle cx="485.5" cy="523" r="2.0" fill="#68ae48" stroke="#468432" stroke-width="0.7"/>
<circle cx="498.1" cy="473.9" r="1.8" fill="none" stroke="#3b2150" stroke-width="1.35"/>
<circle cx="500.4" cy="473.9" r="1.8" fill="none" stroke="#3b2150" stroke-width="1.35"/>
<circle cx="502.7" cy="473.9" r="1.8" fill="none" stroke="#3b2150" stroke-width="1.35"/>
<circle cx="500.3" cy="487.8" r="1.8" fill="none" stroke="#3b2150" stroke-width="1.35"/>
<line x1="58.1" y1="594.4" x2="58.1" y2="672.8" stroke="#111" stroke-width="1.7"/>
<line x1="57.3" y1="672" x2="168" y2="672" stroke="#111" stroke-width="1.7"/>
<line x1="54.5" y1="672" x2="58.1" y2="672" stroke="#111" stroke-width="1.3"/>
<text x="50.8" y="674.5" font-size="9.2" text-anchor="end" fill="#333" stroke="#333" stroke-width="0.12">0.000</text>
<line x1="54.5" y1="647.6" x2="58.1" y2="647.6" stroke="#111" stroke-width="1.3"/>
<text x="50.8" y="650.1" font-size="9.2" text-anchor="end" fill="#333" stroke="#333" stroke-width="0.12">0.005</text>
<line x1="54.5" y1="623.2" x2="58.1" y2="623.2" stroke="#111" stroke-width="1.3"/>
<text x="50.8" y="625.7" font-size="9.2" text-anchor="end" fill="#333" stroke="#333" stroke-width="0.12">0.010</text>
<line x1="54.5" y1="598.8" x2="58.1" y2="598.8" stroke="#111" stroke-width="1.3"/>
<text x="50.8" y="601.3" font-size="9.2" text-anchor="end" fill="#333" stroke="#333" stroke-width="0.12">0.015</text>
<line x1="76.5" y1="672" x2="76.5" y2="675.2" stroke="#111" stroke-width="1.3"/>
<text x="76.5" y="687.1" font-size="10.8" text-anchor="middle" textLength="12.4" lengthAdjust="spacingAndGlyphs" fill="#333" stroke="#333" stroke-width="0.12">H0</text>
<line x1="113" y1="672" x2="113" y2="675.2" stroke="#111" stroke-width="1.3"/>
<text x="113" y="687.1" font-size="10.8" text-anchor="middle" textLength="12.4" lengthAdjust="spacingAndGlyphs" fill="#333" stroke="#333" stroke-width="0.12">H4</text>
<line x1="149.8" y1="672" x2="149.8" y2="675.2" stroke="#111" stroke-width="1.3"/>
<text x="149.8" y="687.1" font-size="10.8" text-anchor="middle" textLength="17.3" lengthAdjust="spacingAndGlyphs" fill="#333" stroke="#333" stroke-width="0.12">H24</text>
<text transform="translate(21.4,633.5) rotate(-90)" x="0" y="0" font-size="10.4" text-anchor="middle" textLength="83" lengthAdjust="spacingAndGlyphs" fill="#333" stroke="#333" stroke-width="0.2">Ratio <tspan font-style="italic">Ciita</tspan>/<tspan font-style="italic">L32</tspan> mRNA</text>
<line x1="80.5" y1="578.5" x2="155" y2="578.5" stroke="#111" stroke-width="1.2"/>
<text x="117.75" y="575.9" font-size="8.6" text-anchor="middle" textLength="37" lengthAdjust="spacingAndGlyphs" fill="#333" stroke="#333" stroke-width="0.18"><tspan font-style="italic">P</tspan> = .0003</text>
<line x1="67.5" y1="590.5" x2="142.5" y2="590.5" stroke="#111" stroke-width="1.2"/>
<text x="105" y="587.9" font-size="8.6" text-anchor="middle" textLength="37" lengthAdjust="spacingAndGlyphs" fill="#333" stroke="#333" stroke-width="0.18"><tspan font-style="italic">P</tspan> = .0006</text>
<line x1="143" y1="613.5" x2="157" y2="613.5" stroke="#111" stroke-width="1.2"/>
<text x="150" y="610.9" font-size="8.6" text-anchor="middle" textLength="37" lengthAdjust="spacingAndGlyphs" fill="#333" stroke="#333" stroke-width="0.18"><tspan font-style="italic">P</tspan> = .0041</text>
<line x1="81.3" y1="606.5" x2="119.5" y2="606.5" stroke="#111" stroke-width="1.2"/>
<text x="100.4" y="603.9" font-size="8.6" text-anchor="middle" textLength="37" lengthAdjust="spacingAndGlyphs" fill="#333" stroke="#333" stroke-width="0.18"><tspan font-style="italic">P</tspan> = .0006</text>
<line x1="67.5" y1="623.5" x2="105" y2="623.5" stroke="#111" stroke-width="1.2"/>
<text x="86.25" y="620.9" font-size="8.6" text-anchor="middle" textLength="37" lengthAdjust="spacingAndGlyphs" fill="#333" stroke="#333" stroke-width="0.18"><tspan font-style="italic">P</tspan> = .0026</text>
<line x1="70" y1="651.5" x2="83.8" y2="651.5" stroke="#111" stroke-width="1.2"/>
<text x="76.9" y="649.8" font-size="8.4" text-anchor="middle" textLength="8" lengthAdjust="spacingAndGlyphs" fill="#333" stroke="#333" stroke-width="0.18">ns</text>
<line x1="107" y1="637.5" x2="121.3" y2="637.5" stroke="#111" stroke-width="1.2"/>
<text x="114.15" y="635.8" font-size="8.4" text-anchor="middle" textLength="8" lengthAdjust="spacingAndGlyphs" fill="#333" stroke="#333" stroke-width="0.18">ns</text>
<circle cx="67" cy="659.5" r="2.0" fill="#68ae48" stroke="#468432" stroke-width="0.7"/>
<circle cx="71.5" cy="659.5" r="2.0" fill="#68ae48" stroke="#468432" stroke-width="0.7"/>
<circle cx="69" cy="662" r="2.0" fill="#68ae48" stroke="#468432" stroke-width="0.7"/>
<circle cx="67" cy="664.5" r="2.0" fill="#68ae48" stroke="#468432" stroke-width="0.7"/>
<circle cx="71.5" cy="665" r="2.0" fill="#68ae48" stroke="#468432" stroke-width="0.7"/>
<circle cx="69" cy="667.5" r="2.0" fill="#68ae48" stroke="#468432" stroke-width="0.7"/>
<circle cx="70" cy="668.5" r="2.0" fill="#68ae48" stroke="#468432" stroke-width="0.7"/>
<circle cx="81" cy="661" r="1.8" fill="none" stroke="#3b2150" stroke-width="1.35"/>
<circle cx="85.5" cy="661" r="1.8" fill="none" stroke="#3b2150" stroke-width="1.35"/>
<circle cx="83" cy="663.5" r="1.8" fill="none" stroke="#3b2150" stroke-width="1.35"/>
<circle cx="81.5" cy="665.5" r="1.8" fill="none" stroke="#3b2150" stroke-width="1.35"/>
<circle cx="85" cy="665.5" r="1.8" fill="none" stroke="#3b2150" stroke-width="1.35"/>
<circle cx="83" cy="667.5" r="1.8" fill="none" stroke="#3b2150" stroke-width="1.35"/>
<circle cx="108" cy="650.75" r="2.0" fill="#68ae48" stroke="#468432" stroke-width="0.7"/>
<circle cx="104.5" cy="654.5" r="2.0" fill="#68ae48" stroke="#468432" stroke-width="0.7"/>
<circle cx="108" cy="655.75" r="2.0" fill="#68ae48" stroke="#468432" stroke-width="0.7"/>
<circle cx="105" cy="658.25" r="2.0" fill="#68ae48" stroke="#468432" stroke-width="0.7"/>
<circle cx="107.5" cy="659.5" r="2.0" fill="#68ae48" stroke="#468432" stroke-width="0.7"/>
<circle cx="104.5" cy="662" r="2.0" fill="#68ae48" stroke="#468432" stroke-width="0.7"/>
<circle cx="106.25" cy="663.25" r="2.0" fill="#68ae48" stroke="#468432" stroke-width="0.7"/>
<circle cx="117.1" cy="650.3" r="1.8" fill="none" stroke="#3b2150" stroke-width="1.35"/>
<circle cx="122.3" cy="650.3" r="1.8" fill="none" stroke="#3b2150" stroke-width="1.35"/>
<circle cx="119.7" cy="652" r="1.8" fill="none" stroke="#3b2150" stroke-width="1.35"/>
<circle cx="117.3" cy="659.2" r="1.8" fill="none" stroke="#3b2150" stroke-width="1.35"/>
<circle cx="121.6" cy="660" r="1.8" fill="none" stroke="#3b2150" stroke-width="1.35"/>
<circle cx="119.4" cy="661.6" r="1.8" fill="none" stroke="#3b2150" stroke-width="1.35"/>
<circle cx="143" cy="640" r="2.0" fill="#68ae48" stroke="#468432" stroke-width="0.7"/>
<circle cx="139.5" cy="647" r="2.0" fill="#68ae48" stroke="#468432" stroke-width="0.7"/>
<circle cx="145" cy="652" r="2.0" fill="#68ae48" stroke="#468432" stroke-width="0.7"/>
<circle cx="141.25" cy="653.25" r="2.0" fill="#68ae48" stroke="#468432" stroke-width="0.7"/>
<circle cx="140" cy="655.75" r="2.0" fill="#68ae48" stroke="#468432" stroke-width="0.7"/>
<circle cx="143.75" cy="657" r="2.0" fill="#68ae48" stroke="#468432" stroke-width="0.7"/>
<circle cx="142" cy="658.25" r="2.0" fill="#68ae48" stroke="#468432" stroke-width="0.7"/>
<circle cx="154.5" cy="622.75" r="1.8" fill="none" stroke="#3b2150" stroke-width="1.35"/>
<circle cx="157.5" cy="624.5" r="1.8" fill="none" stroke="#3b2150" stroke-width="1.35"/>
<circle cx="159.5" cy="624" r="1.8" fill="none" stroke="#3b2150" stroke-width="1.35"/>
<circle cx="154.5" cy="635.75" r="1.8" fill="none" stroke="#3b2150" stroke-width="1.35"/>
<circle cx="158.75" cy="636.5" r="1.8" fill="none" stroke="#3b2150" stroke-width="1.35"/>
<circle cx="158.75" cy="643.25" r="1.8" fill="none" stroke="#3b2150" stroke-width="1.35"/>
<circle cx="154.5" cy="647.75" r="1.8" fill="none" stroke="#3b2150" stroke-width="1.35"/>
<line x1="228.1" y1="594.4" x2="228.1" y2="672.8" stroke="#111" stroke-width="1.7"/>
<line x1="227.3" y1="672" x2="336.3" y2="672" stroke="#111" stroke-width="1.7"/>
<line x1="224.5" y1="672" x2="228.1" y2="672" stroke="#111" stroke-width="1.3"/>
<text x="221.7" y="674.5" font-size="9.2" text-anchor="end" fill="#333" stroke="#333" stroke-width="0.12">0.00</text>
<line x1="224.5" y1="653.62" x2="228.1" y2="653.62" stroke="#111" stroke-width="1.3"/>
<text x="221.7" y="656.12" font-size="9.2" text-anchor="end" fill="#333" stroke="#333" stroke-width="0.12">0.01</text>
<line x1="224.5" y1="635.25" x2="228.1" y2="635.25" stroke="#111" stroke-width="1.3"/>
<text x="221.7" y="637.75" font-size="9.2" text-anchor="end" fill="#333" stroke="#333" stroke-width="0.12">0.02</text>
<line x1="224.5" y1="616.88" x2="228.1" y2="616.88" stroke="#111" stroke-width="1.3"/>
<text x="221.7" y="619.38" font-size="9.2" text-anchor="end" fill="#333" stroke="#333" stroke-width="0.12">0.03</text>
<line x1="224.5" y1="598.5" x2="228.1" y2="598.5" stroke="#111" stroke-width="1.3"/>
<text x="221.7" y="601" font-size="9.2" text-anchor="end" fill="#333" stroke="#333" stroke-width="0.12">0.04</text>
<line x1="246.3" y1="672" x2="246.3" y2="675.2" stroke="#111" stroke-width="1.3"/>
<text x="246.3" y="687.1" font-size="10.8" text-anchor="middle" textLength="12.4" lengthAdjust="spacingAndGlyphs" fill="#333" stroke="#333" stroke-width="0.12">H0</text>
<line x1="282.6" y1="672" x2="282.6" y2="675.2" stroke="#111" stroke-width="1.3"/>
<text x="282.6" y="687.1" font-size="10.8" text-anchor="middle" textLength="12.4" lengthAdjust="spacingAndGlyphs" fill="#333" stroke="#333" stroke-width="0.12">H4</text>
<line x1="319.3" y1="672" x2="319.3" y2="675.2" stroke="#111" stroke-width="1.3"/>
<text x="319.3" y="687.1" font-size="10.8" text-anchor="middle" textLength="17.3" lengthAdjust="spacingAndGlyphs" fill="#333" stroke="#333" stroke-width="0.12">H24</text>
<text transform="translate(197.15,634.12) rotate(-90)" x="0" y="0" font-size="10.4" text-anchor="middle" textLength="81.75" lengthAdjust="spacingAndGlyphs" fill="#333" stroke="#333" stroke-width="0.2">Ratio <tspan font-style="italic">Ciita</tspan>/<tspan font-style="italic">L32</tspan> mRNA</text>
<line x1="249.5" y1="589.5" x2="323.8" y2="589.5" stroke="#111" stroke-width="1.2"/>
<text x="286.65" y="586.9" font-size="8.6" text-anchor="middle" textLength="37" lengthAdjust="spacingAndGlyphs" fill="#333" stroke="#333" stroke-width="0.18"><tspan font-style="italic">P</tspan> = .0003</text>
<line x1="313.8" y1="604.5" x2="326.3" y2="604.5" stroke="#111" stroke-width="1.2"/>
<text x="320.05" y="601.9" font-size="8.6" text-anchor="middle" textLength="37" lengthAdjust="spacingAndGlyphs" fill="#333" stroke="#333" stroke-width="0.18"><tspan font-style="italic">P</tspan> = .0006</text>
<line x1="237" y1="643.5" x2="312" y2="643.5" stroke="#111" stroke-width="1.2"/>
<text x="274.5" y="640.9" font-size="8.6" text-anchor="middle" textLength="37" lengthAdjust="spacingAndGlyphs" fill="#333" stroke="#333" stroke-width="0.18"><tspan font-style="italic">P</tspan> = .0006</text>
<circle cx="238.2" cy="672" r="2.0" fill="#68ae48" stroke="#468432" stroke-width="0.7"/>
<circle cx="238.8" cy="672" r="2.0" fill="#68ae48" stroke="#468432" stroke-width="0.7"/>
<circle cx="239.4" cy="672" r="2.0" fill="#68ae48" stroke="#468432" stroke-width="0.7"/>
<circle cx="240" cy="672" r="2.0" fill="#68ae48" stroke="#468432" stroke-width="0.7"/>
<circle cx="240.6" cy="672" r="2.0" fill="#68ae48" stroke="#468432" stroke-width="0.7"/>
<circle cx="250.9" cy="672" r="1.8" fill="none" stroke="#3b2150" stroke-width="1.35"/>
<circle cx="251.7" cy="672" r="1.8" fill="none" stroke="#3b2150" stroke-width="1.35"/>
<circle cx="252.5" cy="672" r="1.8" fill="none" stroke="#3b2150" stroke-width="1.35"/>
<circle cx="253.3" cy="672" r="1.8" fill="none" stroke="#3b2150" stroke-width="1.35"/>
<circle cx="254.1" cy="672" r="1.8" fill="none" stroke="#3b2150" stroke-width="1.35"/>
<circle cx="254.9" cy="672" r="1.8" fill="none" stroke="#3b2150" stroke-width="1.35"/>
<circle cx="275" cy="672" r="2.0" fill="#68ae48" stroke="#468432" stroke-width="0.7"/>
<circle cx="275.6" cy="672" r="2.0" fill="#68ae48" stroke="#468432" stroke-width="0.7"/>
<circle cx="276.2" cy="672" r="2.0" fill="#68ae48" stroke="#468432" stroke-width="0.7"/>
<circle cx="276.8" cy="672" r="2.0" fill="#68ae48" stroke="#468432" stroke-width="0.7"/>
<circle cx="277.4" cy="672" r="2.0" fill="#68ae48" stroke="#468432" stroke-width="0.7"/>
<circle cx="278" cy="672" r="2.0" fill="#68ae48" stroke="#468432" stroke-width="0.7"/>
<circle cx="287.4" cy="670.3" r="1.8" fill="none" stroke="#3b2150" stroke-width="1.35"/>
<circle cx="290" cy="670.6" r="1.8" fill="none" stroke="#3b2150" stroke-width="1.35"/>
<circle cx="288.7" cy="669.4" r="1.8" fill="none" stroke="#3b2150" stroke-width="1.35"/>
<circle cx="310.5" cy="652" r="2.0" fill="#68ae48" stroke="#468432" stroke-width="0.7"/>
<circle cx="314.5" cy="652" r="2.0" fill="#68ae48" stroke="#468432" stroke-width="0.7"/>
<circle cx="312" cy="655.75" r="2.0" fill="#68ae48" stroke="#468432" stroke-width="0.7"/>
<circle cx="310" cy="658.25" r="2.0" fill="#68ae48" stroke="#468432" stroke-width="0.7"/>
<circle cx="313.75" cy="659" r="2.0" fill="#68ae48" stroke="#468432" stroke-width="0.7"/>
<circle cx="311.25" cy="662" r="2.0" fill="#68ae48" stroke="#468432" stroke-width="0.7"/>
<circle cx="312" cy="668.25" r="2.0" fill="#68ae48" stroke="#468432" stroke-width="0.7"/>
<circle cx="328" cy="611.5" r="1.8" fill="none" stroke="#3b2150" stroke-width="1.35"/>
<circle cx="323.75" cy="616.5" r="1.8" fill="none" stroke="#3b2150" stroke-width="1.35"/>
<circle cx="326.25" cy="616.5" r="1.8" fill="none" stroke="#3b2150" stroke-width="1.35"/>
<circle cx="328.75" cy="618.25" r="1.8" fill="none" stroke="#3b2150" stroke-width="1.35"/>
<circle cx="324.5" cy="624" r="1.8" fill="none" stroke="#3b2150" stroke-width="1.35"/>
<circle cx="326.25" cy="635" r="1.8" fill="none" stroke="#3b2150" stroke-width="1.35"/>
<circle cx="326.25" cy="640.75" r="1.8" fill="none" stroke="#3b2150" stroke-width="1.35"/>
<rect x="0.9" y="0.9" width="518" height="693.9" fill="none" stroke="#000" stroke-width="1.9"/>
</svg>
</body></html>
